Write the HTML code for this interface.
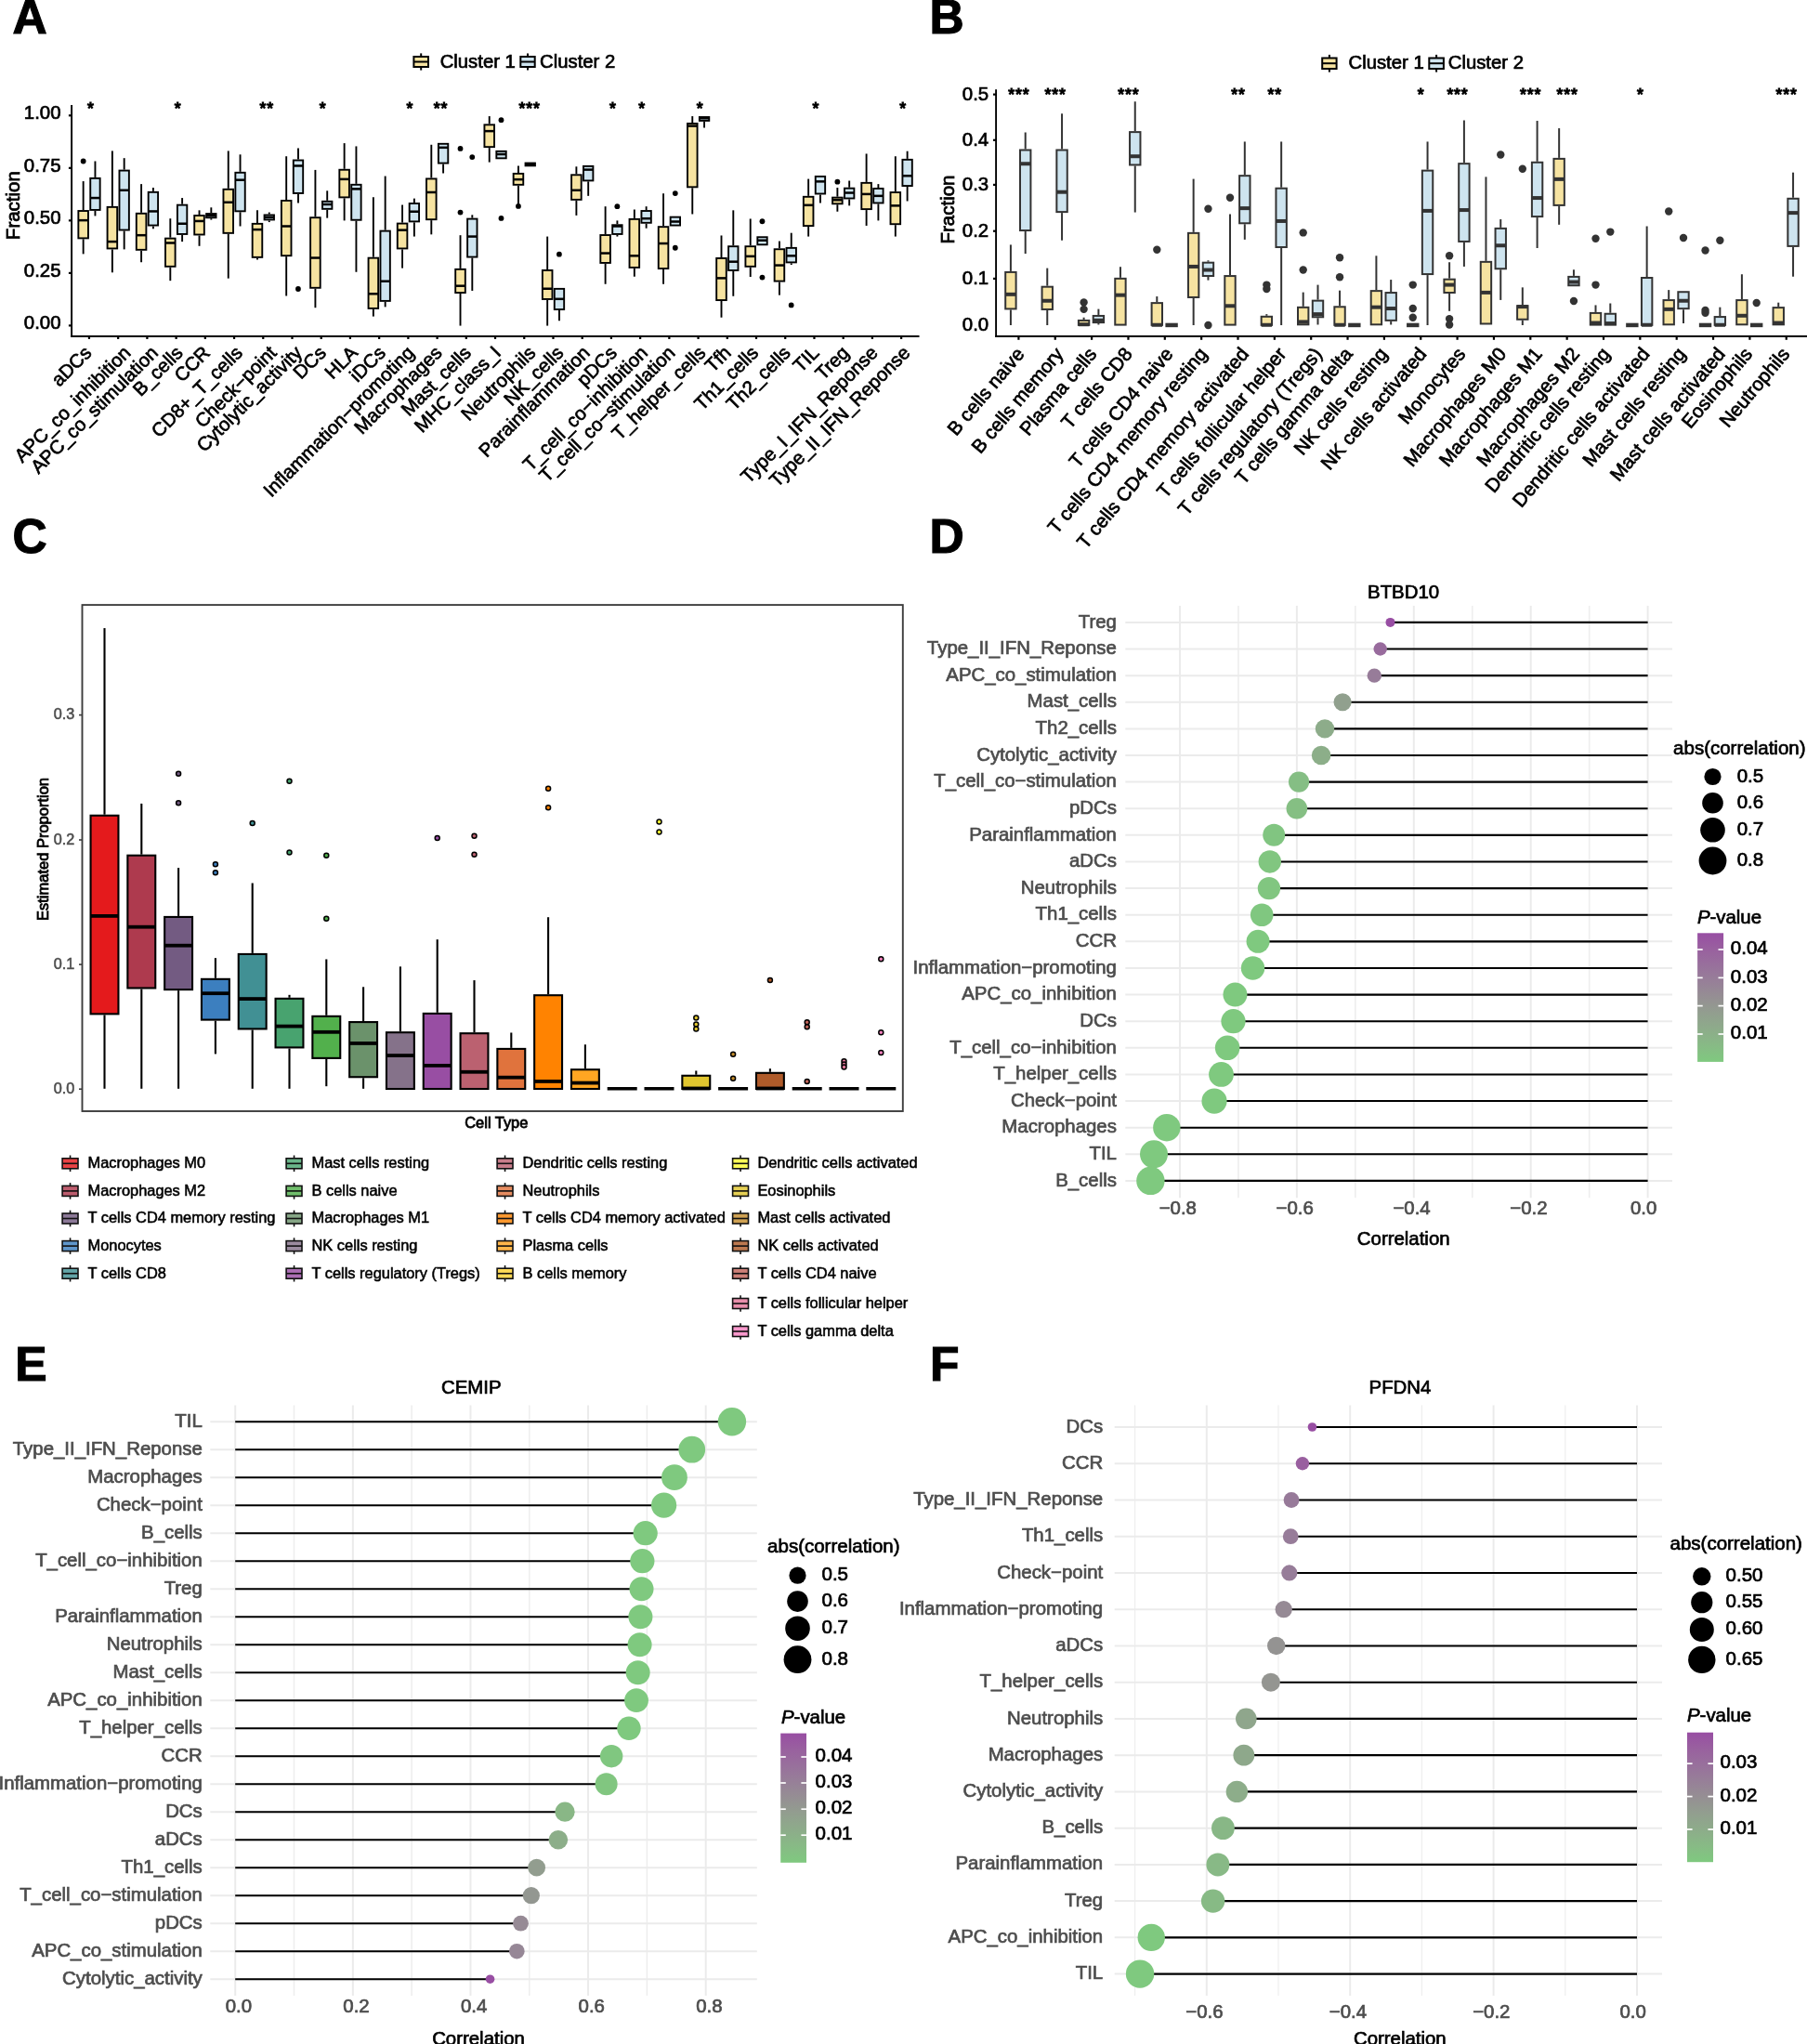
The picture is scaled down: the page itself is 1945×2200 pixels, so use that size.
<!DOCTYPE html>
<html><head><meta charset="utf-8"><title>Figure</title>
<style>
html,body{margin:0;padding:0;background:#fff;}
body{width:1945px;height:2200px;overflow:hidden;}
svg{display:block;will-change:transform;font-family:"Liberation Sans",sans-serif;}
</style></head><body>
<svg width="1945" height="2200" viewBox="0 0 1945 2200">
<rect x="0" y="0" width="1945" height="2200" fill="#fff"/>
<line x1="77.1" y1="113" x2="77.1" y2="362.95" stroke="#000" stroke-width="1.9"/>
<line x1="76.15" y1="362" x2="989.5" y2="362" stroke="#000" stroke-width="1.9"/>
<line x1="73.9" y1="350.4" x2="77.1" y2="350.4" stroke="#000" stroke-width="2.2"/>
<text x="65.5" y="354.4" font-size="20.4" text-anchor="end" stroke="#000" stroke-width="0.69">0.00</text>
<line x1="73.9" y1="293.88" x2="77.1" y2="293.88" stroke="#000" stroke-width="2.2"/>
<text x="65.5" y="297.88" font-size="20.4" text-anchor="end" stroke="#000" stroke-width="0.69">0.25</text>
<line x1="73.9" y1="237.35" x2="77.1" y2="237.35" stroke="#000" stroke-width="2.2"/>
<text x="65.5" y="241.35" font-size="20.4" text-anchor="end" stroke="#000" stroke-width="0.69">0.50</text>
<line x1="73.9" y1="180.82" x2="77.1" y2="180.82" stroke="#000" stroke-width="2.2"/>
<text x="65.5" y="184.82" font-size="20.4" text-anchor="end" stroke="#000" stroke-width="0.69">0.75</text>
<line x1="73.9" y1="124.3" x2="77.1" y2="124.3" stroke="#000" stroke-width="2.2"/>
<text x="65.5" y="128.3" font-size="20.4" text-anchor="end" stroke="#000" stroke-width="0.69">1.00</text>
<text x="20.9" y="221.1" font-size="20.5" text-anchor="middle" stroke="#000" stroke-width="0.8" transform="rotate(-90 20.9 221.1)">Fraction</text>
<line x1="95.95" y1="362" x2="95.95" y2="365" stroke="#000" stroke-width="2.2"/>
<line x1="89.65" y1="195.07" x2="89.65" y2="226.07" stroke="#000" stroke-width="1.9"/>
<line x1="89.65" y1="257.33" x2="89.65" y2="273.38" stroke="#000" stroke-width="1.9"/>
<rect x="84.35" y="227.02" width="10.6" height="29.37" fill="#F6E3A1" stroke="#000" stroke-width="1.9"/>
<line x1="84.35" y1="237.13" x2="94.95" y2="237.13" stroke="#000" stroke-width="2.5"/>
<line x1="102.45" y1="173.49" x2="102.45" y2="190.92" stroke="#000" stroke-width="1.9"/>
<line x1="102.45" y1="226.9" x2="102.45" y2="232.43" stroke="#000" stroke-width="1.9"/>
<rect x="97.25" y="191.87" width="10.4" height="34.07" fill="#CEE4EF" stroke="#000" stroke-width="1.9"/>
<line x1="97.25" y1="213.06" x2="107.65" y2="213.06" stroke="#000" stroke-width="2.5"/>
<circle cx="89.65" cy="173.49" r="2.9" fill="#000"/>
<text x="97.9" y="123" font-size="17.6" text-anchor="middle" stroke="#000" stroke-width="1.2" letter-spacing="0.9">*</text>
<text x="99.7" y="381" font-size="20.4" text-anchor="end" stroke="#000" stroke-width="0.69" transform="rotate(-45 99.7 381)">aDCs</text>
<line x1="127.17" y1="362" x2="127.17" y2="365" stroke="#000" stroke-width="2.2"/>
<line x1="120.87" y1="162.42" x2="120.87" y2="221.91" stroke="#000" stroke-width="1.9"/>
<line x1="120.87" y1="268.4" x2="120.87" y2="293.3" stroke="#000" stroke-width="1.9"/>
<rect x="115.57" y="222.86" width="10.6" height="44.59" fill="#F6E3A1" stroke="#000" stroke-width="1.9"/>
<line x1="115.57" y1="260.1" x2="126.17" y2="260.1" stroke="#000" stroke-width="2.5"/>
<line x1="133.67" y1="170.17" x2="133.67" y2="182.62" stroke="#000" stroke-width="1.9"/>
<line x1="133.67" y1="248.48" x2="133.67" y2="268.4" stroke="#000" stroke-width="1.9"/>
<rect x="128.47" y="183.57" width="10.4" height="63.96" fill="#CEE4EF" stroke="#000" stroke-width="1.9"/>
<line x1="128.47" y1="204.76" x2="138.87" y2="204.76" stroke="#000" stroke-width="2.5"/>
<text x="141.82" y="381" font-size="20.4" text-anchor="end" stroke="#000" stroke-width="0.69" transform="rotate(-45 141.82 381)">APC_co_inhibition</text>
<line x1="158.39" y1="362" x2="158.39" y2="365" stroke="#000" stroke-width="2.2"/>
<line x1="152.09" y1="198.12" x2="152.09" y2="228.83" stroke="#000" stroke-width="1.9"/>
<line x1="152.09" y1="269.78" x2="152.09" y2="282.24" stroke="#000" stroke-width="1.9"/>
<rect x="146.79" y="229.78" width="10.6" height="39.05" fill="#F6E3A1" stroke="#000" stroke-width="1.9"/>
<line x1="146.79" y1="253.18" x2="157.39" y2="253.18" stroke="#000" stroke-width="2.5"/>
<line x1="164.89" y1="201.99" x2="164.89" y2="205.87" stroke="#000" stroke-width="1.9"/>
<line x1="164.89" y1="243.5" x2="164.89" y2="246.26" stroke="#000" stroke-width="1.9"/>
<rect x="159.69" y="206.82" width="10.4" height="35.73" fill="#CEE4EF" stroke="#000" stroke-width="1.9"/>
<line x1="159.69" y1="227.45" x2="170.09" y2="227.45" stroke="#000" stroke-width="2.5"/>
<text x="171.24" y="381" font-size="20.4" text-anchor="end" stroke="#000" stroke-width="0.69" transform="rotate(-45 171.24 381)">APC_co_stimulation</text>
<line x1="189.61" y1="362" x2="189.61" y2="365" stroke="#000" stroke-width="2.2"/>
<line x1="183.31" y1="235.2" x2="183.31" y2="255.67" stroke="#000" stroke-width="1.9"/>
<line x1="183.31" y1="287.77" x2="183.31" y2="302.16" stroke="#000" stroke-width="1.9"/>
<rect x="178.01" y="256.62" width="10.6" height="30.2" fill="#F6E3A1" stroke="#000" stroke-width="1.9"/>
<line x1="178.01" y1="261.48" x2="188.61" y2="261.48" stroke="#000" stroke-width="2.5"/>
<line x1="196.11" y1="213.06" x2="196.11" y2="219.7" stroke="#000" stroke-width="1.9"/>
<line x1="196.11" y1="252.91" x2="196.11" y2="260.1" stroke="#000" stroke-width="1.9"/>
<rect x="190.91" y="220.65" width="10.4" height="31.3" fill="#CEE4EF" stroke="#000" stroke-width="1.9"/>
<line x1="190.91" y1="240.73" x2="201.31" y2="240.73" stroke="#000" stroke-width="2.5"/>
<text x="191.56" y="123" font-size="17.6" text-anchor="middle" stroke="#000" stroke-width="1.2" letter-spacing="0.9">*</text>
<text x="197.86" y="381" font-size="20.4" text-anchor="end" stroke="#000" stroke-width="0.69" transform="rotate(-45 197.86 381)">B_cells</text>
<line x1="220.83" y1="362" x2="220.83" y2="365" stroke="#000" stroke-width="2.2"/>
<line x1="214.53" y1="226.34" x2="214.53" y2="231.05" stroke="#000" stroke-width="1.9"/>
<line x1="214.53" y1="253.46" x2="214.53" y2="264.8" stroke="#000" stroke-width="1.9"/>
<rect x="209.23" y="232" width="10.6" height="20.51" fill="#F6E3A1" stroke="#000" stroke-width="1.9"/>
<line x1="209.23" y1="237.96" x2="219.83" y2="237.96" stroke="#000" stroke-width="2.5"/>
<line x1="227.33" y1="223.3" x2="227.33" y2="229.11" stroke="#000" stroke-width="1.9"/>
<line x1="227.33" y1="235.2" x2="227.33" y2="236.58" stroke="#000" stroke-width="1.9"/>
<rect x="222.13" y="230.06" width="10.4" height="4.19" fill="#CEE4EF" stroke="#000" stroke-width="1.9"/>
<line x1="222.13" y1="231.88" x2="232.53" y2="231.88" stroke="#000" stroke-width="2.5"/>
<text x="227.28" y="381" font-size="20.4" text-anchor="end" stroke="#000" stroke-width="0.69" transform="rotate(-45 227.28 381)">CCR</text>
<line x1="252.05" y1="362" x2="252.05" y2="365" stroke="#000" stroke-width="2.2"/>
<line x1="245.75" y1="162.42" x2="245.75" y2="202.82" stroke="#000" stroke-width="1.9"/>
<line x1="245.75" y1="251.8" x2="245.75" y2="299.67" stroke="#000" stroke-width="1.9"/>
<rect x="240.45" y="203.77" width="10.6" height="47.08" fill="#F6E3A1" stroke="#000" stroke-width="1.9"/>
<line x1="240.45" y1="217.76" x2="251.05" y2="217.76" stroke="#000" stroke-width="2.5"/>
<line x1="258.55" y1="166.3" x2="258.55" y2="184.84" stroke="#000" stroke-width="1.9"/>
<line x1="258.55" y1="228.28" x2="258.55" y2="243.5" stroke="#000" stroke-width="1.9"/>
<rect x="253.35" y="185.79" width="10.4" height="41.54" fill="#CEE4EF" stroke="#000" stroke-width="1.9"/>
<line x1="253.35" y1="193.69" x2="263.75" y2="193.69" stroke="#000" stroke-width="2.5"/>
<text x="262.2" y="381" font-size="20.4" text-anchor="end" stroke="#000" stroke-width="0.69" transform="rotate(-45 262.2 381)">CD8+_T_cells</text>
<line x1="283.27" y1="362" x2="283.27" y2="365" stroke="#000" stroke-width="2.2"/>
<line x1="276.97" y1="226.34" x2="276.97" y2="239.9" stroke="#000" stroke-width="1.9"/>
<line x1="276.97" y1="277.81" x2="276.97" y2="279.47" stroke="#000" stroke-width="1.9"/>
<rect x="271.67" y="240.85" width="10.6" height="36.01" fill="#F6E3A1" stroke="#000" stroke-width="1.9"/>
<line x1="271.67" y1="247.09" x2="282.27" y2="247.09" stroke="#000" stroke-width="2.5"/>
<line x1="289.77" y1="228.56" x2="289.77" y2="230.49" stroke="#000" stroke-width="1.9"/>
<line x1="289.77" y1="237.41" x2="289.77" y2="239.07" stroke="#000" stroke-width="1.9"/>
<rect x="284.57" y="231.44" width="10.4" height="5.02" fill="#CEE4EF" stroke="#000" stroke-width="1.9"/>
<line x1="284.57" y1="233.81" x2="294.97" y2="233.81" stroke="#000" stroke-width="2.5"/>
<text x="287.22" y="123" font-size="17.6" text-anchor="middle" stroke="#000" stroke-width="1.2" letter-spacing="0.9">**</text>
<text x="298.82" y="381" font-size="20.4" text-anchor="end" stroke="#000" stroke-width="0.69" transform="rotate(-45 298.82 381)">Check−point</text>
<line x1="314.49" y1="362" x2="314.49" y2="365" stroke="#000" stroke-width="2.2"/>
<line x1="308.19" y1="168.23" x2="308.19" y2="215" stroke="#000" stroke-width="1.9"/>
<line x1="308.19" y1="276.15" x2="308.19" y2="318.48" stroke="#000" stroke-width="1.9"/>
<rect x="302.89" y="215.95" width="10.6" height="59.25" fill="#F6E3A1" stroke="#000" stroke-width="1.9"/>
<line x1="302.89" y1="243.5" x2="313.49" y2="243.5" stroke="#000" stroke-width="2.5"/>
<line x1="320.99" y1="159.38" x2="320.99" y2="171.56" stroke="#000" stroke-width="1.9"/>
<line x1="320.99" y1="208.91" x2="320.99" y2="218.59" stroke="#000" stroke-width="1.9"/>
<rect x="315.79" y="172.51" width="10.4" height="35.45" fill="#CEE4EF" stroke="#000" stroke-width="1.9"/>
<line x1="315.79" y1="178.47" x2="326.19" y2="178.47" stroke="#000" stroke-width="2.5"/>
<circle cx="320.94" cy="311.01" r="2.9" fill="#000"/>
<text x="326.44" y="381" font-size="20.4" text-anchor="end" stroke="#000" stroke-width="0.69" transform="rotate(-45 326.44 381)">Cytolytic_activity</text>
<line x1="345.71" y1="362" x2="345.71" y2="365" stroke="#000" stroke-width="2.2"/>
<line x1="339.41" y1="182.9" x2="339.41" y2="233.26" stroke="#000" stroke-width="1.9"/>
<line x1="339.41" y1="310.74" x2="339.41" y2="331.21" stroke="#000" stroke-width="1.9"/>
<rect x="334.11" y="234.21" width="10.6" height="75.58" fill="#F6E3A1" stroke="#000" stroke-width="1.9"/>
<line x1="334.11" y1="277.53" x2="344.71" y2="277.53" stroke="#000" stroke-width="2.5"/>
<line x1="352.21" y1="205.31" x2="352.21" y2="215.83" stroke="#000" stroke-width="1.9"/>
<line x1="352.21" y1="225.79" x2="352.21" y2="234.64" stroke="#000" stroke-width="1.9"/>
<rect x="347.01" y="216.78" width="10.4" height="8.06" fill="#CEE4EF" stroke="#000" stroke-width="1.9"/>
<line x1="347.01" y1="219.98" x2="357.41" y2="219.98" stroke="#000" stroke-width="2.5"/>
<text x="347.66" y="123" font-size="17.6" text-anchor="middle" stroke="#000" stroke-width="1.2" letter-spacing="0.9">*</text>
<text x="352.16" y="381" font-size="20.4" text-anchor="end" stroke="#000" stroke-width="0.69" transform="rotate(-45 352.16 381)">DCs</text>
<line x1="376.93" y1="362" x2="376.93" y2="365" stroke="#000" stroke-width="2.2"/>
<line x1="370.63" y1="154.12" x2="370.63" y2="181.79" stroke="#000" stroke-width="1.9"/>
<line x1="370.63" y1="213.34" x2="370.63" y2="237.41" stroke="#000" stroke-width="1.9"/>
<rect x="365.33" y="182.74" width="10.6" height="29.64" fill="#F6E3A1" stroke="#000" stroke-width="1.9"/>
<line x1="365.33" y1="192.86" x2="375.93" y2="192.86" stroke="#000" stroke-width="2.5"/>
<line x1="383.43" y1="157.44" x2="383.43" y2="197.84" stroke="#000" stroke-width="1.9"/>
<line x1="383.43" y1="237.69" x2="383.43" y2="292.75" stroke="#000" stroke-width="1.9"/>
<rect x="378.23" y="198.79" width="10.4" height="37.95" fill="#CEE4EF" stroke="#000" stroke-width="1.9"/>
<line x1="378.23" y1="203.38" x2="388.63" y2="203.38" stroke="#000" stroke-width="2.5"/>
<text x="386.08" y="381" font-size="20.4" text-anchor="end" stroke="#000" stroke-width="0.69" transform="rotate(-45 386.08 381)">HLA</text>
<line x1="408.15" y1="362" x2="408.15" y2="365" stroke="#000" stroke-width="2.2"/>
<line x1="401.85" y1="212.23" x2="401.85" y2="276.7" stroke="#000" stroke-width="1.9"/>
<line x1="401.85" y1="332.87" x2="401.85" y2="340.62" stroke="#000" stroke-width="1.9"/>
<rect x="396.55" y="277.65" width="10.6" height="54.27" fill="#F6E3A1" stroke="#000" stroke-width="1.9"/>
<line x1="396.55" y1="316.27" x2="407.15" y2="316.27" stroke="#000" stroke-width="2.5"/>
<line x1="414.65" y1="189.54" x2="414.65" y2="247.65" stroke="#000" stroke-width="1.9"/>
<line x1="414.65" y1="324.85" x2="414.65" y2="330.38" stroke="#000" stroke-width="1.9"/>
<rect x="409.45" y="248.6" width="10.4" height="75.3" fill="#CEE4EF" stroke="#000" stroke-width="1.9"/>
<line x1="409.45" y1="302.71" x2="419.85" y2="302.71" stroke="#000" stroke-width="2.5"/>
<text x="416.1" y="381" font-size="20.4" text-anchor="end" stroke="#000" stroke-width="0.69" transform="rotate(-45 416.1 381)">iDCs</text>
<line x1="439.37" y1="362" x2="439.37" y2="365" stroke="#000" stroke-width="2.2"/>
<line x1="433.07" y1="220.53" x2="433.07" y2="239.62" stroke="#000" stroke-width="1.9"/>
<line x1="433.07" y1="268.4" x2="433.07" y2="288.6" stroke="#000" stroke-width="1.9"/>
<rect x="427.77" y="240.57" width="10.6" height="26.88" fill="#F6E3A1" stroke="#000" stroke-width="1.9"/>
<line x1="427.77" y1="247.65" x2="438.37" y2="247.65" stroke="#000" stroke-width="2.5"/>
<line x1="445.87" y1="213.61" x2="445.87" y2="218.04" stroke="#000" stroke-width="1.9"/>
<line x1="445.87" y1="239.35" x2="445.87" y2="254.57" stroke="#000" stroke-width="1.9"/>
<rect x="440.67" y="218.99" width="10.4" height="19.41" fill="#CEE4EF" stroke="#000" stroke-width="1.9"/>
<line x1="440.67" y1="227.73" x2="451.07" y2="227.73" stroke="#000" stroke-width="2.5"/>
<text x="441.32" y="123" font-size="17.6" text-anchor="middle" stroke="#000" stroke-width="1.2" letter-spacing="0.9">*</text>
<text x="447.12" y="381" font-size="20.4" text-anchor="end" stroke="#000" stroke-width="0.69" transform="rotate(-45 447.12 381)">Inflammation−promoting</text>
<line x1="470.59" y1="362" x2="470.59" y2="365" stroke="#000" stroke-width="2.2"/>
<line x1="464.29" y1="155.78" x2="464.29" y2="191.48" stroke="#000" stroke-width="1.9"/>
<line x1="464.29" y1="237.13" x2="464.29" y2="252.35" stroke="#000" stroke-width="1.9"/>
<rect x="458.99" y="192.43" width="10.6" height="43.76" fill="#F6E3A1" stroke="#000" stroke-width="1.9"/>
<line x1="458.99" y1="206.97" x2="469.59" y2="206.97" stroke="#000" stroke-width="2.5"/>
<line x1="477.09" y1="176.54" x2="477.09" y2="186.5" stroke="#000" stroke-width="1.9"/>
<rect x="471.89" y="154.8" width="10.4" height="20.79" fill="#CEE4EF" stroke="#000" stroke-width="1.9"/>
<line x1="471.89" y1="158.83" x2="482.29" y2="158.83" stroke="#000" stroke-width="2.5"/>
<text x="474.54" y="123" font-size="17.6" text-anchor="middle" stroke="#000" stroke-width="1.2" letter-spacing="0.9">**</text>
<text x="477.04" y="381" font-size="20.4" text-anchor="end" stroke="#000" stroke-width="0.69" transform="rotate(-45 477.04 381)">Macrophages</text>
<line x1="501.81" y1="362" x2="501.81" y2="365" stroke="#000" stroke-width="2.2"/>
<line x1="495.51" y1="253.18" x2="495.51" y2="288.88" stroke="#000" stroke-width="1.9"/>
<line x1="495.51" y1="315.99" x2="495.51" y2="350.58" stroke="#000" stroke-width="1.9"/>
<rect x="490.21" y="289.83" width="10.6" height="25.22" fill="#F6E3A1" stroke="#000" stroke-width="1.9"/>
<line x1="490.21" y1="307.69" x2="500.81" y2="307.69" stroke="#000" stroke-width="2.5"/>
<line x1="508.31" y1="231.32" x2="508.31" y2="234.64" stroke="#000" stroke-width="1.9"/>
<line x1="508.31" y1="277.53" x2="508.31" y2="312.95" stroke="#000" stroke-width="1.9"/>
<rect x="503.11" y="235.59" width="10.4" height="40.99" fill="#CEE4EF" stroke="#000" stroke-width="1.9"/>
<line x1="503.11" y1="254.57" x2="513.51" y2="254.57" stroke="#000" stroke-width="2.5"/>
<circle cx="495.51" cy="159.93" r="2.9" fill="#000"/>
<circle cx="495.51" cy="228.56" r="2.9" fill="#000"/>
<circle cx="508.26" cy="169.06" r="2.9" fill="#000"/>
<text x="508.26" y="381" font-size="20.4" text-anchor="end" stroke="#000" stroke-width="0.69" transform="rotate(-45 508.26 381)">Mast_cells</text>
<line x1="533.03" y1="362" x2="533.03" y2="365" stroke="#000" stroke-width="2.2"/>
<line x1="526.73" y1="125.07" x2="526.73" y2="133.37" stroke="#000" stroke-width="1.9"/>
<line x1="526.73" y1="159.1" x2="526.73" y2="174.6" stroke="#000" stroke-width="1.9"/>
<rect x="521.43" y="134.32" width="10.6" height="23.83" fill="#F6E3A1" stroke="#000" stroke-width="1.9"/>
<line x1="521.43" y1="141.12" x2="532.03" y2="141.12" stroke="#000" stroke-width="2.5"/>
<rect x="534.33" y="162.82" width="10.4" height="7.51" fill="#CEE4EF" stroke="#000" stroke-width="1.9"/>
<line x1="534.33" y1="166.02" x2="544.73" y2="166.02" stroke="#000" stroke-width="2.5"/>
<circle cx="539.48" cy="129.22" r="2.9" fill="#000"/>
<circle cx="539.48" cy="234.92" r="2.9" fill="#000"/>
<text x="540.18" y="381" font-size="20.4" text-anchor="end" stroke="#000" stroke-width="0.69" transform="rotate(-45 540.18 381)">MHC_class_I</text>
<line x1="564.25" y1="362" x2="564.25" y2="365" stroke="#000" stroke-width="2.2"/>
<line x1="557.95" y1="178.47" x2="557.95" y2="185.94" stroke="#000" stroke-width="1.9"/>
<line x1="557.95" y1="199.78" x2="557.95" y2="221.36" stroke="#000" stroke-width="1.9"/>
<rect x="552.65" y="186.89" width="10.6" height="11.94" fill="#F6E3A1" stroke="#000" stroke-width="1.9"/>
<line x1="552.65" y1="193.14" x2="563.25" y2="193.14" stroke="#000" stroke-width="2.5"/>
<rect x="565.55" y="175.55" width="10.4" height="2.8" fill="#CEE4EF" stroke="#000" stroke-width="1.9"/>
<line x1="565.55" y1="176.95" x2="575.95" y2="176.95" stroke="#000" stroke-width="2.5"/>
<circle cx="557.95" cy="221.91" r="2.9" fill="#000"/>
<text x="570.2" y="123" font-size="17.6" text-anchor="middle" stroke="#000" stroke-width="1.2" letter-spacing="0.9">***</text>
<text x="577.6" y="381" font-size="20.4" text-anchor="end" stroke="#000" stroke-width="0.69" transform="rotate(-45 577.6 381)">Neutrophils</text>
<line x1="595.47" y1="362" x2="595.47" y2="365" stroke="#000" stroke-width="2.2"/>
<line x1="589.17" y1="254.57" x2="589.17" y2="289.98" stroke="#000" stroke-width="1.9"/>
<line x1="589.17" y1="322.91" x2="589.17" y2="350.58" stroke="#000" stroke-width="1.9"/>
<rect x="583.87" y="290.93" width="10.6" height="31.03" fill="#F6E3A1" stroke="#000" stroke-width="1.9"/>
<line x1="583.87" y1="310.74" x2="594.47" y2="310.74" stroke="#000" stroke-width="2.5"/>
<line x1="601.97" y1="333.98" x2="601.97" y2="345.32" stroke="#000" stroke-width="1.9"/>
<rect x="596.77" y="310.86" width="10.4" height="22.17" fill="#CEE4EF" stroke="#000" stroke-width="1.9"/>
<line x1="596.77" y1="321.8" x2="607.17" y2="321.8" stroke="#000" stroke-width="2.5"/>
<circle cx="601.92" cy="273.66" r="2.9" fill="#000"/>
<text x="607.72" y="381" font-size="20.4" text-anchor="end" stroke="#000" stroke-width="0.69" transform="rotate(-45 607.72 381)">NK_cells</text>
<line x1="626.69" y1="362" x2="626.69" y2="365" stroke="#000" stroke-width="2.2"/>
<line x1="620.39" y1="179.3" x2="620.39" y2="187.33" stroke="#000" stroke-width="1.9"/>
<line x1="620.39" y1="215.83" x2="620.39" y2="231.88" stroke="#000" stroke-width="1.9"/>
<rect x="615.09" y="188.28" width="10.6" height="26.6" fill="#F6E3A1" stroke="#000" stroke-width="1.9"/>
<line x1="615.09" y1="204.76" x2="625.69" y2="204.76" stroke="#000" stroke-width="2.5"/>
<line x1="633.19" y1="195.35" x2="633.19" y2="210.85" stroke="#000" stroke-width="1.9"/>
<rect x="627.99" y="178.87" width="10.4" height="15.53" fill="#CEE4EF" stroke="#000" stroke-width="1.9"/>
<line x1="627.99" y1="182.62" x2="638.39" y2="182.62" stroke="#000" stroke-width="2.5"/>
<text x="636.04" y="381" font-size="20.4" text-anchor="end" stroke="#000" stroke-width="0.69" transform="rotate(-45 636.04 381)">Parainflammation</text>
<line x1="657.91" y1="362" x2="657.91" y2="365" stroke="#000" stroke-width="2.2"/>
<line x1="651.61" y1="222.19" x2="651.61" y2="252.08" stroke="#000" stroke-width="1.9"/>
<line x1="651.61" y1="283.9" x2="651.61" y2="305.76" stroke="#000" stroke-width="1.9"/>
<rect x="646.31" y="253.03" width="10.6" height="29.92" fill="#F6E3A1" stroke="#000" stroke-width="1.9"/>
<line x1="646.31" y1="272.55" x2="656.91" y2="272.55" stroke="#000" stroke-width="2.5"/>
<line x1="664.41" y1="237.41" x2="664.41" y2="241.28" stroke="#000" stroke-width="1.9"/>
<line x1="664.41" y1="252.91" x2="664.41" y2="254.57" stroke="#000" stroke-width="1.9"/>
<rect x="659.21" y="242.23" width="10.4" height="9.72" fill="#CEE4EF" stroke="#000" stroke-width="1.9"/>
<line x1="659.21" y1="243.5" x2="669.61" y2="243.5" stroke="#000" stroke-width="2.5"/>
<circle cx="664.36" cy="222.19" r="2.9" fill="#000"/>
<text x="659.86" y="123" font-size="17.6" text-anchor="middle" stroke="#000" stroke-width="1.2" letter-spacing="0.9">*</text>
<text x="665.26" y="381" font-size="20.4" text-anchor="end" stroke="#000" stroke-width="0.69" transform="rotate(-45 665.26 381)">pDCs</text>
<line x1="689.13" y1="362" x2="689.13" y2="365" stroke="#000" stroke-width="2.2"/>
<line x1="682.83" y1="225.51" x2="682.83" y2="234.92" stroke="#000" stroke-width="1.9"/>
<line x1="682.83" y1="288.88" x2="682.83" y2="297.73" stroke="#000" stroke-width="1.9"/>
<rect x="677.53" y="235.87" width="10.6" height="52.06" fill="#F6E3A1" stroke="#000" stroke-width="1.9"/>
<line x1="677.53" y1="275.32" x2="688.13" y2="275.32" stroke="#000" stroke-width="2.5"/>
<line x1="695.63" y1="222.19" x2="695.63" y2="226.07" stroke="#000" stroke-width="1.9"/>
<line x1="695.63" y1="240.73" x2="695.63" y2="245.71" stroke="#000" stroke-width="1.9"/>
<rect x="690.43" y="227.02" width="10.4" height="12.77" fill="#CEE4EF" stroke="#000" stroke-width="1.9"/>
<line x1="690.43" y1="235.2" x2="700.83" y2="235.2" stroke="#000" stroke-width="2.5"/>
<text x="691.08" y="123" font-size="17.6" text-anchor="middle" stroke="#000" stroke-width="1.2" letter-spacing="0.9">*</text>
<text x="698.18" y="381" font-size="20.4" text-anchor="end" stroke="#000" stroke-width="0.69" transform="rotate(-45 698.18 381)">T_cell_co−inhibition</text>
<line x1="720.35" y1="362" x2="720.35" y2="365" stroke="#000" stroke-width="2.2"/>
<line x1="714.05" y1="208.36" x2="714.05" y2="243.22" stroke="#000" stroke-width="1.9"/>
<line x1="714.05" y1="289.98" x2="714.05" y2="305.76" stroke="#000" stroke-width="1.9"/>
<rect x="708.75" y="244.17" width="10.6" height="44.86" fill="#F6E3A1" stroke="#000" stroke-width="1.9"/>
<line x1="708.75" y1="262.04" x2="719.35" y2="262.04" stroke="#000" stroke-width="2.5"/>
<rect x="721.65" y="233.66" width="10.4" height="8.89" fill="#CEE4EF" stroke="#000" stroke-width="1.9"/>
<line x1="721.65" y1="238.52" x2="732.05" y2="238.52" stroke="#000" stroke-width="2.5"/>
<circle cx="726.8" cy="208.08" r="2.9" fill="#000"/>
<circle cx="726.8" cy="266.74" r="2.9" fill="#000"/>
<text x="727.9" y="381" font-size="20.4" text-anchor="end" stroke="#000" stroke-width="0.69" transform="rotate(-45 727.9 381)">T_cell_co−stimulation</text>
<line x1="751.57" y1="362" x2="751.57" y2="365" stroke="#000" stroke-width="2.2"/>
<line x1="745.27" y1="125.07" x2="745.27" y2="131.99" stroke="#000" stroke-width="1.9"/>
<line x1="745.27" y1="202.27" x2="745.27" y2="230.49" stroke="#000" stroke-width="1.9"/>
<rect x="739.97" y="132.94" width="10.6" height="68.38" fill="#F6E3A1" stroke="#000" stroke-width="1.9"/>
<line x1="739.97" y1="135.58" x2="750.57" y2="135.58" stroke="#000" stroke-width="2.5"/>
<line x1="758.07" y1="130.88" x2="758.07" y2="137.52" stroke="#000" stroke-width="1.9"/>
<rect x="752.87" y="126.02" width="10.4" height="3.91" fill="#CEE4EF" stroke="#000" stroke-width="1.9"/>
<line x1="752.87" y1="127.28" x2="763.27" y2="127.28" stroke="#000" stroke-width="2.5"/>
<text x="753.52" y="123" font-size="17.6" text-anchor="middle" stroke="#000" stroke-width="1.2" letter-spacing="0.9">*</text>
<text x="760.72" y="381" font-size="20.4" text-anchor="end" stroke="#000" stroke-width="0.69" transform="rotate(-45 760.72 381)">T_helper_cells</text>
<line x1="782.79" y1="362" x2="782.79" y2="365" stroke="#000" stroke-width="2.2"/>
<line x1="776.49" y1="253.46" x2="776.49" y2="276.98" stroke="#000" stroke-width="1.9"/>
<line x1="776.49" y1="324.02" x2="776.49" y2="341.73" stroke="#000" stroke-width="1.9"/>
<rect x="771.19" y="277.93" width="10.6" height="45.14" fill="#F6E3A1" stroke="#000" stroke-width="1.9"/>
<line x1="771.19" y1="299.39" x2="781.79" y2="299.39" stroke="#000" stroke-width="2.5"/>
<line x1="789.29" y1="226.34" x2="789.29" y2="264.25" stroke="#000" stroke-width="1.9"/>
<line x1="789.29" y1="291.92" x2="789.29" y2="318.76" stroke="#000" stroke-width="1.9"/>
<rect x="784.09" y="265.2" width="10.4" height="25.77" fill="#CEE4EF" stroke="#000" stroke-width="1.9"/>
<line x1="784.09" y1="281.68" x2="794.49" y2="281.68" stroke="#000" stroke-width="2.5"/>
<text x="788.14" y="381" font-size="20.4" text-anchor="end" stroke="#000" stroke-width="0.69" transform="rotate(-45 788.14 381)">Tfh</text>
<line x1="814.01" y1="362" x2="814.01" y2="365" stroke="#000" stroke-width="2.2"/>
<line x1="807.71" y1="235.47" x2="807.71" y2="264.25" stroke="#000" stroke-width="1.9"/>
<line x1="807.71" y1="287.77" x2="807.71" y2="298.01" stroke="#000" stroke-width="1.9"/>
<rect x="802.41" y="265.2" width="10.6" height="21.62" fill="#F6E3A1" stroke="#000" stroke-width="1.9"/>
<line x1="802.41" y1="275.87" x2="813.01" y2="275.87" stroke="#000" stroke-width="2.5"/>
<rect x="815.31" y="255.24" width="10.4" height="8.06" fill="#CEE4EF" stroke="#000" stroke-width="1.9"/>
<line x1="815.31" y1="258.72" x2="825.71" y2="258.72" stroke="#000" stroke-width="2.5"/>
<circle cx="820.46" cy="238.24" r="2.9" fill="#000"/>
<circle cx="820.46" cy="298.56" r="2.9" fill="#000"/>
<text x="817.36" y="381" font-size="20.4" text-anchor="end" stroke="#000" stroke-width="0.69" transform="rotate(-45 817.36 381)">Th1_cells</text>
<line x1="845.23" y1="362" x2="845.23" y2="365" stroke="#000" stroke-width="2.2"/>
<line x1="838.93" y1="259.55" x2="838.93" y2="267.29" stroke="#000" stroke-width="1.9"/>
<line x1="838.93" y1="303.54" x2="838.93" y2="317.65" stroke="#000" stroke-width="1.9"/>
<rect x="833.63" y="268.24" width="10.6" height="34.35" fill="#F6E3A1" stroke="#000" stroke-width="1.9"/>
<line x1="833.63" y1="285.56" x2="844.23" y2="285.56" stroke="#000" stroke-width="2.5"/>
<line x1="851.73" y1="250.69" x2="851.73" y2="265.91" stroke="#000" stroke-width="1.9"/>
<line x1="851.73" y1="283.34" x2="851.73" y2="285" stroke="#000" stroke-width="1.9"/>
<rect x="846.53" y="266.86" width="10.4" height="15.53" fill="#CEE4EF" stroke="#000" stroke-width="1.9"/>
<line x1="846.53" y1="275.32" x2="856.93" y2="275.32" stroke="#000" stroke-width="2.5"/>
<circle cx="851.68" cy="328.44" r="2.9" fill="#000"/>
<text x="852.08" y="381" font-size="20.4" text-anchor="end" stroke="#000" stroke-width="0.69" transform="rotate(-45 852.08 381)">Th2_cells</text>
<line x1="876.45" y1="362" x2="876.45" y2="365" stroke="#000" stroke-width="2.2"/>
<line x1="870.15" y1="192.58" x2="870.15" y2="210.85" stroke="#000" stroke-width="1.9"/>
<line x1="870.15" y1="244.05" x2="870.15" y2="254.57" stroke="#000" stroke-width="1.9"/>
<rect x="864.85" y="211.8" width="10.6" height="31.3" fill="#F6E3A1" stroke="#000" stroke-width="1.9"/>
<line x1="864.85" y1="220.81" x2="875.45" y2="220.81" stroke="#000" stroke-width="2.5"/>
<line x1="882.95" y1="209.46" x2="882.95" y2="218.59" stroke="#000" stroke-width="1.9"/>
<rect x="877.75" y="189.94" width="10.4" height="18.58" fill="#CEE4EF" stroke="#000" stroke-width="1.9"/>
<line x1="877.75" y1="195.35" x2="888.15" y2="195.35" stroke="#000" stroke-width="2.5"/>
<text x="878.4" y="123" font-size="17.6" text-anchor="middle" stroke="#000" stroke-width="1.2" letter-spacing="0.9">*</text>
<text x="882.9" y="381" font-size="20.4" text-anchor="end" stroke="#000" stroke-width="0.69" transform="rotate(-45 882.9 381)">TIL</text>
<line x1="907.67" y1="362" x2="907.67" y2="365" stroke="#000" stroke-width="2.2"/>
<line x1="901.37" y1="201.99" x2="901.37" y2="211.68" stroke="#000" stroke-width="1.9"/>
<line x1="901.37" y1="220.25" x2="901.37" y2="227.73" stroke="#000" stroke-width="1.9"/>
<rect x="896.07" y="212.63" width="10.6" height="6.68" fill="#F6E3A1" stroke="#000" stroke-width="1.9"/>
<line x1="896.07" y1="215.27" x2="906.67" y2="215.27" stroke="#000" stroke-width="2.5"/>
<line x1="914.17" y1="194.52" x2="914.17" y2="201.72" stroke="#000" stroke-width="1.9"/>
<line x1="914.17" y1="214.44" x2="914.17" y2="221.36" stroke="#000" stroke-width="1.9"/>
<rect x="908.97" y="202.67" width="10.4" height="10.83" fill="#CEE4EF" stroke="#000" stroke-width="1.9"/>
<line x1="908.97" y1="207.53" x2="919.37" y2="207.53" stroke="#000" stroke-width="2.5"/>
<circle cx="901.37" cy="195.63" r="2.9" fill="#000"/>
<text x="915.02" y="381" font-size="20.4" text-anchor="end" stroke="#000" stroke-width="0.69" transform="rotate(-45 915.02 381)">Treg</text>
<line x1="938.89" y1="362" x2="938.89" y2="365" stroke="#000" stroke-width="2.2"/>
<line x1="932.59" y1="165.47" x2="932.59" y2="195.9" stroke="#000" stroke-width="1.9"/>
<line x1="932.59" y1="226.07" x2="932.59" y2="242.94" stroke="#000" stroke-width="1.9"/>
<rect x="927.29" y="196.85" width="10.6" height="28.26" fill="#F6E3A1" stroke="#000" stroke-width="1.9"/>
<line x1="927.29" y1="208.91" x2="937.89" y2="208.91" stroke="#000" stroke-width="2.5"/>
<line x1="945.39" y1="198.12" x2="945.39" y2="201.99" stroke="#000" stroke-width="1.9"/>
<line x1="945.39" y1="219.42" x2="945.39" y2="237.41" stroke="#000" stroke-width="1.9"/>
<rect x="940.19" y="202.94" width="10.4" height="15.53" fill="#CEE4EF" stroke="#000" stroke-width="1.9"/>
<line x1="940.19" y1="210.85" x2="950.59" y2="210.85" stroke="#000" stroke-width="2.5"/>
<text x="946.04" y="381" font-size="20.4" text-anchor="end" stroke="#000" stroke-width="0.69" transform="rotate(-45 946.04 381)">Type_I_IFN_Reponse</text>
<line x1="970.11" y1="362" x2="970.11" y2="365" stroke="#000" stroke-width="2.2"/>
<line x1="963.81" y1="168.23" x2="963.81" y2="206.09" stroke="#000" stroke-width="1.9"/>
<line x1="963.81" y1="242.17" x2="963.81" y2="254.57" stroke="#000" stroke-width="1.9"/>
<rect x="958.51" y="207.04" width="10.6" height="34.18" fill="#F6E3A1" stroke="#000" stroke-width="1.9"/>
<line x1="958.51" y1="221.36" x2="969.11" y2="221.36" stroke="#000" stroke-width="2.5"/>
<line x1="976.61" y1="162.7" x2="976.61" y2="170.89" stroke="#000" stroke-width="1.9"/>
<line x1="976.61" y1="201" x2="976.61" y2="216.49" stroke="#000" stroke-width="1.9"/>
<rect x="971.41" y="171.84" width="10.4" height="28.21" fill="#CEE4EF" stroke="#000" stroke-width="1.9"/>
<line x1="971.41" y1="189.26" x2="981.81" y2="189.26" stroke="#000" stroke-width="2.5"/>
<text x="972.06" y="123" font-size="17.6" text-anchor="middle" stroke="#000" stroke-width="1.2" letter-spacing="0.9">*</text>
<text x="980.76" y="381" font-size="20.4" text-anchor="end" stroke="#000" stroke-width="0.69" transform="rotate(-45 980.76 381)">Type_II_IFN_Reponse</text>
<line x1="453.2" y1="57.4" x2="453.2" y2="75.6" stroke="#000" stroke-width="2"/>
<rect x="445.4" y="61" width="15.6" height="11" fill="#F6E3A1" stroke="#000" stroke-width="2"/>
<line x1="445.4" y1="66.5" x2="461" y2="66.5" stroke="#000" stroke-width="2"/>
<text x="473.7" y="72.9" font-size="20.3" stroke="#000" stroke-width="0.69">Cluster 1</text>
<line x1="568" y1="57.4" x2="568" y2="75.6" stroke="#000" stroke-width="2"/>
<rect x="560.3" y="61" width="15.4" height="11" fill="#CEE4EF" stroke="#000" stroke-width="2"/>
<line x1="560.3" y1="66.5" x2="575.7" y2="66.5" stroke="#000" stroke-width="2"/>
<text x="581.1" y="72.9" font-size="20.3" stroke="#000" stroke-width="0.69">Cluster 2</text>
<line x1="1072.1" y1="96.3" x2="1072.1" y2="362.95" stroke="#000" stroke-width="1.9"/>
<line x1="1071.15" y1="362" x2="1945" y2="362" stroke="#000" stroke-width="1.9"/>
<text x="1064.2" y="355.9" font-size="20.4" text-anchor="end" stroke="#000" stroke-width="0.69">0.0</text>
<line x1="1069" y1="299.9" x2="1072.1" y2="299.9" stroke="#000" stroke-width="2.2"/>
<text x="1064.2" y="306" font-size="20.4" text-anchor="end" stroke="#000" stroke-width="0.69">0.1</text>
<line x1="1069" y1="248.7" x2="1072.1" y2="248.7" stroke="#000" stroke-width="2.2"/>
<text x="1064.2" y="254.8" font-size="20.4" text-anchor="end" stroke="#000" stroke-width="0.69">0.2</text>
<line x1="1069" y1="198.9" x2="1072.1" y2="198.9" stroke="#000" stroke-width="2.2"/>
<text x="1064.2" y="205" font-size="20.4" text-anchor="end" stroke="#000" stroke-width="0.69">0.3</text>
<line x1="1069" y1="150.8" x2="1072.1" y2="150.8" stroke="#000" stroke-width="2.2"/>
<text x="1064.2" y="156.9" font-size="20.4" text-anchor="end" stroke="#000" stroke-width="0.69">0.4</text>
<line x1="1069" y1="101.65" x2="1072.1" y2="101.65" stroke="#000" stroke-width="2.2"/>
<text x="1064.2" y="107.75" font-size="20.4" text-anchor="end" stroke="#000" stroke-width="0.69">0.5</text>
<text x="1027.3" y="225.5" font-size="20.5" text-anchor="middle" stroke="#000" stroke-width="0.8" transform="rotate(-90 1027.3 225.5)">Fraction</text>
<line x1="1096.4" y1="362" x2="1096.4" y2="365.8" stroke="#000" stroke-width="2.2"/>
<line x1="1087.9" y1="263.42" x2="1087.9" y2="291.92" stroke="#333" stroke-width="2"/>
<line x1="1087.9" y1="333.43" x2="1087.9" y2="350.03" stroke="#333" stroke-width="2"/>
<rect x="1082.2" y="292.92" width="11.4" height="39.51" fill="#F6E3A1" stroke="#333" stroke-width="2"/>
<line x1="1082.2" y1="316.82" x2="1093.6" y2="316.82" stroke="#333" stroke-width="4"/>
<line x1="1103.7" y1="142.5" x2="1103.7" y2="160.49" stroke="#333" stroke-width="2"/>
<line x1="1103.7" y1="249.03" x2="1103.7" y2="273.1" stroke="#333" stroke-width="2"/>
<rect x="1098" y="161.49" width="11.4" height="86.54" fill="#CEE4EF" stroke="#333" stroke-width="2"/>
<line x1="1098" y1="176.26" x2="1109.4" y2="176.26" stroke="#333" stroke-width="4"/>
<text x="1096.8" y="107.6" font-size="17.6" text-anchor="middle" stroke="#000" stroke-width="1.2" letter-spacing="0.9">***</text>
<text x="1103.6" y="381.5" font-size="20.6" text-anchor="end" stroke="#000" stroke-width="0.7" transform="rotate(-50 1103.6 381.5)">B cells naive</text>
<line x1="1135.75" y1="362" x2="1135.75" y2="365.8" stroke="#000" stroke-width="2.2"/>
<line x1="1127.25" y1="288.6" x2="1127.25" y2="307.69" stroke="#333" stroke-width="2"/>
<line x1="1127.25" y1="333.98" x2="1127.25" y2="350.03" stroke="#333" stroke-width="2"/>
<rect x="1121.55" y="308.69" width="11.4" height="24.29" fill="#F6E3A1" stroke="#333" stroke-width="2"/>
<line x1="1121.55" y1="323.74" x2="1132.95" y2="323.74" stroke="#333" stroke-width="4"/>
<line x1="1143.05" y1="122.3" x2="1143.05" y2="160.49" stroke="#333" stroke-width="2"/>
<line x1="1143.05" y1="229.11" x2="1143.05" y2="258.72" stroke="#333" stroke-width="2"/>
<rect x="1137.35" y="161.49" width="11.4" height="66.62" fill="#CEE4EF" stroke="#333" stroke-width="2"/>
<line x1="1137.35" y1="206.7" x2="1148.75" y2="206.7" stroke="#333" stroke-width="4"/>
<text x="1136.15" y="107.6" font-size="17.6" text-anchor="middle" stroke="#000" stroke-width="1.2" letter-spacing="0.9">***</text>
<text x="1145.65" y="381.5" font-size="20.6" text-anchor="end" stroke="#000" stroke-width="0.7" transform="rotate(-50 1145.65 381.5)">B cells memory</text>
<line x1="1175.1" y1="362" x2="1175.1" y2="365.8" stroke="#000" stroke-width="2.2"/>
<line x1="1166.6" y1="341.73" x2="1166.6" y2="343.94" stroke="#333" stroke-width="2"/>
<rect x="1160.9" y="344.94" width="11.4" height="4.92" fill="#F6E3A1" stroke="#333" stroke-width="2"/>
<line x1="1160.9" y1="349.2" x2="1172.3" y2="349.2" stroke="#333" stroke-width="4"/>
<line x1="1182.4" y1="332.6" x2="1182.4" y2="338.96" stroke="#333" stroke-width="2"/>
<line x1="1182.4" y1="348.09" x2="1182.4" y2="349.47" stroke="#333" stroke-width="2"/>
<rect x="1176.7" y="339.96" width="11.4" height="7.13" fill="#CEE4EF" stroke="#333" stroke-width="2"/>
<line x1="1176.7" y1="344.77" x2="1188.1" y2="344.77" stroke="#333" stroke-width="4"/>
<circle cx="1166.6" cy="325.4" r="4.2" fill="#333"/>
<circle cx="1166.6" cy="332.87" r="4.2" fill="#333"/>
<text x="1181.4" y="381.5" font-size="20.6" text-anchor="end" stroke="#000" stroke-width="0.7" transform="rotate(-50 1181.4 381.5)">Plasma cells</text>
<line x1="1214.45" y1="362" x2="1214.45" y2="365.8" stroke="#000" stroke-width="2.2"/>
<line x1="1205.95" y1="287.22" x2="1205.95" y2="298.84" stroke="#333" stroke-width="2"/>
<rect x="1200.25" y="299.84" width="11.4" height="49.74" fill="#F6E3A1" stroke="#333" stroke-width="2"/>
<line x1="1200.25" y1="317.65" x2="1211.65" y2="317.65" stroke="#333" stroke-width="4"/>
<line x1="1221.75" y1="109.3" x2="1221.75" y2="141.12" stroke="#333" stroke-width="2"/>
<line x1="1221.75" y1="178.47" x2="1221.75" y2="228.56" stroke="#333" stroke-width="2"/>
<rect x="1216.05" y="142.12" width="11.4" height="35.35" fill="#CEE4EF" stroke="#333" stroke-width="2"/>
<line x1="1216.05" y1="168.23" x2="1227.45" y2="168.23" stroke="#333" stroke-width="4"/>
<text x="1214.85" y="107.6" font-size="17.6" text-anchor="middle" stroke="#000" stroke-width="1.2" letter-spacing="0.9">***</text>
<text x="1219.85" y="381.5" font-size="20.6" text-anchor="end" stroke="#000" stroke-width="0.7" transform="rotate(-50 1219.85 381.5)">T cells CD8</text>
<line x1="1253.8" y1="362" x2="1253.8" y2="365.8" stroke="#000" stroke-width="2.2"/>
<line x1="1245.3" y1="319.04" x2="1245.3" y2="325.12" stroke="#333" stroke-width="2"/>
<rect x="1239.6" y="326.12" width="11.4" height="23.73" fill="#F6E3A1" stroke="#333" stroke-width="2"/>
<line x1="1239.6" y1="349.75" x2="1251" y2="349.75" stroke="#333" stroke-width="4"/>
<line x1="1254.4" y1="349.93" x2="1267.8" y2="349.93" stroke="#333" stroke-width="4.5"/>
<circle cx="1245.3" cy="268.68" r="4.2" fill="#333"/>
<text x="1263.7" y="381.5" font-size="20.6" text-anchor="end" stroke="#000" stroke-width="0.7" transform="rotate(-50 1263.7 381.5)">T cells CD4 naive</text>
<line x1="1293.15" y1="362" x2="1293.15" y2="365.8" stroke="#000" stroke-width="2.2"/>
<line x1="1284.65" y1="192.58" x2="1284.65" y2="249.86" stroke="#333" stroke-width="2"/>
<line x1="1284.65" y1="320.97" x2="1284.65" y2="350.03" stroke="#333" stroke-width="2"/>
<rect x="1278.95" y="250.86" width="11.4" height="69.11" fill="#F6E3A1" stroke="#333" stroke-width="2"/>
<line x1="1278.95" y1="286.94" x2="1290.35" y2="286.94" stroke="#333" stroke-width="4"/>
<line x1="1300.45" y1="280.3" x2="1300.45" y2="281.68" stroke="#333" stroke-width="2"/>
<line x1="1300.45" y1="298.01" x2="1300.45" y2="301.6" stroke="#333" stroke-width="2"/>
<rect x="1294.75" y="282.68" width="11.4" height="14.33" fill="#CEE4EF" stroke="#333" stroke-width="2"/>
<line x1="1294.75" y1="290.54" x2="1306.15" y2="290.54" stroke="#333" stroke-width="4"/>
<circle cx="1300.45" cy="224.68" r="4.2" fill="#333"/>
<circle cx="1300.45" cy="350.03" r="4.2" fill="#333"/>
<text x="1300.35" y="381.5" font-size="20.6" text-anchor="end" stroke="#000" stroke-width="0.7" transform="rotate(-50 1300.35 381.5)">T cells CD4 memory resting</text>
<line x1="1332.5" y1="362" x2="1332.5" y2="365.8" stroke="#000" stroke-width="2.2"/>
<line x1="1324" y1="230.49" x2="1324" y2="296.07" stroke="#333" stroke-width="2"/>
<rect x="1318.3" y="297.07" width="11.4" height="52.51" fill="#F6E3A1" stroke="#333" stroke-width="2"/>
<line x1="1318.3" y1="329.28" x2="1329.7" y2="329.28" stroke="#333" stroke-width="4"/>
<line x1="1339.8" y1="152.46" x2="1339.8" y2="188.16" stroke="#333" stroke-width="2"/>
<line x1="1339.8" y1="241.28" x2="1339.8" y2="257.89" stroke="#333" stroke-width="2"/>
<rect x="1334.1" y="189.16" width="11.4" height="51.13" fill="#CEE4EF" stroke="#333" stroke-width="2"/>
<line x1="1334.1" y1="224.13" x2="1345.5" y2="224.13" stroke="#333" stroke-width="4"/>
<circle cx="1324" cy="212.78" r="4.2" fill="#333"/>
<text x="1332.9" y="107.6" font-size="17.6" text-anchor="middle" stroke="#000" stroke-width="1.2" letter-spacing="0.9">**</text>
<text x="1345.1" y="381.5" font-size="20.6" text-anchor="end" stroke="#000" stroke-width="0.7" transform="rotate(-50 1345.1 381.5)">T cells CD4 memory activated</text>
<line x1="1371.85" y1="362" x2="1371.85" y2="365.8" stroke="#000" stroke-width="2.2"/>
<line x1="1363.35" y1="338.13" x2="1363.35" y2="339.79" stroke="#333" stroke-width="2"/>
<rect x="1357.65" y="340.79" width="11.4" height="9.07" fill="#F6E3A1" stroke="#333" stroke-width="2"/>
<line x1="1357.65" y1="349.75" x2="1369.05" y2="349.75" stroke="#333" stroke-width="4"/>
<line x1="1379.15" y1="152.46" x2="1379.15" y2="201.72" stroke="#333" stroke-width="2"/>
<line x1="1379.15" y1="267.02" x2="1379.15" y2="350.03" stroke="#333" stroke-width="2"/>
<rect x="1373.45" y="202.72" width="11.4" height="63.3" fill="#CEE4EF" stroke="#333" stroke-width="2"/>
<line x1="1373.45" y1="237.96" x2="1384.85" y2="237.96" stroke="#333" stroke-width="4"/>
<circle cx="1363.35" cy="306.59" r="4.2" fill="#333"/>
<circle cx="1363.35" cy="311.01" r="4.2" fill="#333"/>
<text x="1372.25" y="107.6" font-size="17.6" text-anchor="middle" stroke="#000" stroke-width="1.2" letter-spacing="0.9">**</text>
<text x="1385.35" y="381.5" font-size="20.6" text-anchor="end" stroke="#000" stroke-width="0.7" transform="rotate(-50 1385.35 381.5)">T cells follicular helper</text>
<line x1="1411.2" y1="362" x2="1411.2" y2="365.8" stroke="#000" stroke-width="2.2"/>
<line x1="1402.7" y1="314.61" x2="1402.7" y2="329.83" stroke="#333" stroke-width="2"/>
<rect x="1397" y="330.83" width="11.4" height="18.48" fill="#F6E3A1" stroke="#333" stroke-width="2"/>
<line x1="1397" y1="346.43" x2="1408.4" y2="346.43" stroke="#333" stroke-width="4"/>
<line x1="1418.5" y1="306.59" x2="1418.5" y2="322.63" stroke="#333" stroke-width="2"/>
<line x1="1418.5" y1="342.28" x2="1418.5" y2="349.47" stroke="#333" stroke-width="2"/>
<rect x="1412.8" y="323.63" width="11.4" height="17.65" fill="#CEE4EF" stroke="#333" stroke-width="2"/>
<line x1="1412.8" y1="338.13" x2="1424.2" y2="338.13" stroke="#333" stroke-width="4"/>
<circle cx="1402.7" cy="250.42" r="4.2" fill="#333"/>
<circle cx="1402.7" cy="290.54" r="4.2" fill="#333"/>
<text x="1423.8" y="381.5" font-size="20.6" text-anchor="end" stroke="#000" stroke-width="0.7" transform="rotate(-50 1423.8 381.5)">T cells regulatory (Tregs)</text>
<line x1="1450.55" y1="362" x2="1450.55" y2="365.8" stroke="#000" stroke-width="2.2"/>
<line x1="1442.05" y1="312.67" x2="1442.05" y2="329.28" stroke="#333" stroke-width="2"/>
<rect x="1436.35" y="330.28" width="11.4" height="19.58" fill="#F6E3A1" stroke="#333" stroke-width="2"/>
<line x1="1436.35" y1="349.75" x2="1447.75" y2="349.75" stroke="#333" stroke-width="4"/>
<line x1="1451.15" y1="349.93" x2="1464.55" y2="349.93" stroke="#333" stroke-width="4.5"/>
<circle cx="1442.05" cy="277.26" r="4.2" fill="#333"/>
<circle cx="1442.05" cy="298.28" r="4.2" fill="#333"/>
<text x="1456.85" y="381.5" font-size="20.6" text-anchor="end" stroke="#000" stroke-width="0.7" transform="rotate(-50 1456.85 381.5)">T cells gamma delta</text>
<line x1="1489.9" y1="362" x2="1489.9" y2="365.8" stroke="#000" stroke-width="2.2"/>
<line x1="1481.4" y1="275.32" x2="1481.4" y2="312.12" stroke="#333" stroke-width="2"/>
<rect x="1475.7" y="313.12" width="11.4" height="36.18" fill="#F6E3A1" stroke="#333" stroke-width="2"/>
<line x1="1475.7" y1="330.66" x2="1487.1" y2="330.66" stroke="#333" stroke-width="4"/>
<line x1="1497.2" y1="301.05" x2="1497.2" y2="314.06" stroke="#333" stroke-width="2"/>
<line x1="1497.2" y1="345.88" x2="1497.2" y2="349.47" stroke="#333" stroke-width="2"/>
<rect x="1491.5" y="315.06" width="11.4" height="29.82" fill="#CEE4EF" stroke="#333" stroke-width="2"/>
<line x1="1491.5" y1="332.04" x2="1502.9" y2="332.04" stroke="#333" stroke-width="4"/>
<text x="1494.3" y="381.5" font-size="20.6" text-anchor="end" stroke="#000" stroke-width="0.7" transform="rotate(-50 1494.3 381.5)">NK cells resting</text>
<line x1="1529.25" y1="362" x2="1529.25" y2="365.8" stroke="#000" stroke-width="2.2"/>
<line x1="1514.05" y1="349.93" x2="1527.45" y2="349.93" stroke="#333" stroke-width="4.5"/>
<line x1="1536.55" y1="152.46" x2="1536.55" y2="182.62" stroke="#333" stroke-width="2"/>
<line x1="1536.55" y1="296.07" x2="1536.55" y2="350.03" stroke="#333" stroke-width="2"/>
<rect x="1530.85" y="183.62" width="11.4" height="111.45" fill="#CEE4EF" stroke="#333" stroke-width="2"/>
<line x1="1530.85" y1="226.9" x2="1542.25" y2="226.9" stroke="#333" stroke-width="4"/>
<circle cx="1520.75" cy="306.59" r="4.2" fill="#333"/>
<circle cx="1520.75" cy="332.04" r="4.2" fill="#333"/>
<circle cx="1520.75" cy="341.73" r="4.2" fill="#333"/>
<text x="1529.65" y="107.6" font-size="17.6" text-anchor="middle" stroke="#000" stroke-width="1.2" letter-spacing="0.9">*</text>
<text x="1536.45" y="381.5" font-size="20.6" text-anchor="end" stroke="#000" stroke-width="0.7" transform="rotate(-50 1536.45 381.5)">NK cells activated</text>
<line x1="1568.6" y1="362" x2="1568.6" y2="365.8" stroke="#000" stroke-width="2.2"/>
<line x1="1560.1" y1="282.24" x2="1560.1" y2="299.67" stroke="#333" stroke-width="2"/>
<line x1="1560.1" y1="315.99" x2="1560.1" y2="334.81" stroke="#333" stroke-width="2"/>
<rect x="1554.4" y="300.67" width="11.4" height="14.33" fill="#F6E3A1" stroke="#333" stroke-width="2"/>
<line x1="1554.4" y1="306.59" x2="1565.8" y2="306.59" stroke="#333" stroke-width="4"/>
<line x1="1575.9" y1="129.5" x2="1575.9" y2="175.15" stroke="#333" stroke-width="2"/>
<line x1="1575.9" y1="260.93" x2="1575.9" y2="286.94" stroke="#333" stroke-width="2"/>
<rect x="1570.2" y="176.15" width="11.4" height="83.78" fill="#CEE4EF" stroke="#333" stroke-width="2"/>
<line x1="1570.2" y1="226.07" x2="1581.6" y2="226.07" stroke="#333" stroke-width="4"/>
<circle cx="1560.1" cy="275.32" r="4.2" fill="#333"/>
<circle cx="1560.1" cy="343.11" r="4.2" fill="#333"/>
<circle cx="1560.1" cy="349.47" r="4.2" fill="#333"/>
<text x="1569" y="107.6" font-size="17.6" text-anchor="middle" stroke="#000" stroke-width="1.2" letter-spacing="0.9">***</text>
<text x="1578.5" y="381.5" font-size="20.6" text-anchor="end" stroke="#000" stroke-width="0.7" transform="rotate(-50 1578.5 381.5)">Monocytes</text>
<line x1="1607.95" y1="362" x2="1607.95" y2="365.8" stroke="#000" stroke-width="2.2"/>
<line x1="1599.45" y1="190.37" x2="1599.45" y2="280.85" stroke="#333" stroke-width="2"/>
<rect x="1593.75" y="281.85" width="11.4" height="66.62" fill="#F6E3A1" stroke="#333" stroke-width="2"/>
<line x1="1593.75" y1="314.89" x2="1605.15" y2="314.89" stroke="#333" stroke-width="4"/>
<line x1="1615.25" y1="236.03" x2="1615.25" y2="244.88" stroke="#333" stroke-width="2"/>
<line x1="1615.25" y1="290.26" x2="1615.25" y2="322.91" stroke="#333" stroke-width="2"/>
<rect x="1609.55" y="245.88" width="11.4" height="43.38" fill="#CEE4EF" stroke="#333" stroke-width="2"/>
<line x1="1609.55" y1="264.25" x2="1620.95" y2="264.25" stroke="#333" stroke-width="4"/>
<circle cx="1615.25" cy="166.57" r="4.2" fill="#333"/>
<text x="1622.45" y="381.5" font-size="20.6" text-anchor="end" stroke="#000" stroke-width="0.7" transform="rotate(-50 1622.45 381.5)">Macrophages M0</text>
<line x1="1647.3" y1="362" x2="1647.3" y2="365.8" stroke="#000" stroke-width="2.2"/>
<line x1="1638.8" y1="309.35" x2="1638.8" y2="328.17" stroke="#333" stroke-width="2"/>
<line x1="1638.8" y1="344.77" x2="1638.8" y2="350.03" stroke="#333" stroke-width="2"/>
<rect x="1633.1" y="329.17" width="11.4" height="14.6" fill="#F6E3A1" stroke="#333" stroke-width="2"/>
<line x1="1633.1" y1="330.11" x2="1644.5" y2="330.11" stroke="#333" stroke-width="4"/>
<line x1="1654.6" y1="130.05" x2="1654.6" y2="173.77" stroke="#333" stroke-width="2"/>
<line x1="1654.6" y1="234.09" x2="1654.6" y2="267.02" stroke="#333" stroke-width="2"/>
<rect x="1648.9" y="174.77" width="11.4" height="58.32" fill="#CEE4EF" stroke="#333" stroke-width="2"/>
<line x1="1648.9" y1="213.06" x2="1660.3" y2="213.06" stroke="#333" stroke-width="4"/>
<circle cx="1638.8" cy="181.79" r="4.2" fill="#333"/>
<text x="1647.7" y="107.6" font-size="17.6" text-anchor="middle" stroke="#000" stroke-width="1.2" letter-spacing="0.9">***</text>
<text x="1660.8" y="381.5" font-size="20.6" text-anchor="end" stroke="#000" stroke-width="0.7" transform="rotate(-50 1660.8 381.5)">Macrophages M1</text>
<line x1="1686.65" y1="362" x2="1686.65" y2="365.8" stroke="#000" stroke-width="2.2"/>
<line x1="1678.15" y1="138.07" x2="1678.15" y2="169.89" stroke="#333" stroke-width="2"/>
<line x1="1678.15" y1="221.91" x2="1678.15" y2="241.84" stroke="#333" stroke-width="2"/>
<rect x="1672.45" y="170.89" width="11.4" height="50.02" fill="#F6E3A1" stroke="#333" stroke-width="2"/>
<line x1="1672.45" y1="192.86" x2="1683.85" y2="192.86" stroke="#333" stroke-width="4"/>
<line x1="1693.95" y1="290.26" x2="1693.95" y2="296.9" stroke="#333" stroke-width="2"/>
<rect x="1688.25" y="297.9" width="11.4" height="9.34" fill="#CEE4EF" stroke="#333" stroke-width="2"/>
<line x1="1688.25" y1="303.54" x2="1699.65" y2="303.54" stroke="#333" stroke-width="4"/>
<circle cx="1693.95" cy="324.02" r="4.2" fill="#333"/>
<text x="1687.05" y="107.6" font-size="17.6" text-anchor="middle" stroke="#000" stroke-width="1.2" letter-spacing="0.9">***</text>
<text x="1701.15" y="381.5" font-size="20.6" text-anchor="end" stroke="#000" stroke-width="0.7" transform="rotate(-50 1701.15 381.5)">Macrophages M2</text>
<line x1="1726" y1="362" x2="1726" y2="365.8" stroke="#000" stroke-width="2.2"/>
<line x1="1717.5" y1="328.44" x2="1717.5" y2="335.92" stroke="#333" stroke-width="2"/>
<rect x="1711.8" y="336.92" width="11.4" height="12.67" fill="#F6E3A1" stroke="#333" stroke-width="2"/>
<line x1="1711.8" y1="347.54" x2="1723.2" y2="347.54" stroke="#333" stroke-width="4"/>
<line x1="1733.3" y1="326.51" x2="1733.3" y2="336.75" stroke="#333" stroke-width="2"/>
<rect x="1727.6" y="337.75" width="11.4" height="11.84" fill="#CEE4EF" stroke="#333" stroke-width="2"/>
<line x1="1727.6" y1="348.09" x2="1739" y2="348.09" stroke="#333" stroke-width="4"/>
<circle cx="1717.5" cy="256.78" r="4.2" fill="#333"/>
<circle cx="1717.5" cy="306.59" r="4.2" fill="#333"/>
<circle cx="1733.3" cy="249.58" r="4.2" fill="#333"/>
<text x="1733.9" y="381.5" font-size="20.6" text-anchor="end" stroke="#000" stroke-width="0.7" transform="rotate(-50 1733.9 381.5)">Dendritic cells resting</text>
<line x1="1765.35" y1="362" x2="1765.35" y2="365.8" stroke="#000" stroke-width="2.2"/>
<line x1="1750.15" y1="349.93" x2="1763.55" y2="349.93" stroke="#333" stroke-width="4.5"/>
<line x1="1772.65" y1="243.5" x2="1772.65" y2="298.01" stroke="#333" stroke-width="2"/>
<rect x="1766.95" y="299.01" width="11.4" height="50.85" fill="#CEE4EF" stroke="#333" stroke-width="2"/>
<line x1="1766.95" y1="349.75" x2="1778.35" y2="349.75" stroke="#333" stroke-width="4"/>
<text x="1765.75" y="107.6" font-size="17.6" text-anchor="middle" stroke="#000" stroke-width="1.2" letter-spacing="0.9">*</text>
<text x="1776.65" y="381.5" font-size="20.6" text-anchor="end" stroke="#000" stroke-width="0.7" transform="rotate(-50 1776.65 381.5)">Dendritic cells activated</text>
<line x1="1804.7" y1="362" x2="1804.7" y2="365.8" stroke="#000" stroke-width="2.2"/>
<line x1="1796.2" y1="312.12" x2="1796.2" y2="322.08" stroke="#333" stroke-width="2"/>
<rect x="1790.5" y="323.08" width="11.4" height="26.22" fill="#F6E3A1" stroke="#333" stroke-width="2"/>
<line x1="1790.5" y1="332.87" x2="1801.9" y2="332.87" stroke="#333" stroke-width="4"/>
<line x1="1812" y1="333.15" x2="1812" y2="348.09" stroke="#333" stroke-width="2"/>
<rect x="1806.3" y="314.23" width="11.4" height="17.92" fill="#CEE4EF" stroke="#333" stroke-width="2"/>
<line x1="1806.3" y1="323.74" x2="1817.7" y2="323.74" stroke="#333" stroke-width="4"/>
<circle cx="1796.2" cy="227.45" r="4.2" fill="#333"/>
<circle cx="1812" cy="255.95" r="4.2" fill="#333"/>
<text x="1815.3" y="381.5" font-size="20.6" text-anchor="end" stroke="#000" stroke-width="0.7" transform="rotate(-50 1815.3 381.5)">Mast cells resting</text>
<line x1="1844.05" y1="362" x2="1844.05" y2="365.8" stroke="#000" stroke-width="2.2"/>
<line x1="1828.85" y1="349.93" x2="1842.25" y2="349.93" stroke="#333" stroke-width="4.5"/>
<line x1="1851.35" y1="330.66" x2="1851.35" y2="340.07" stroke="#333" stroke-width="2"/>
<rect x="1845.65" y="341.07" width="11.4" height="8.79" fill="#CEE4EF" stroke="#333" stroke-width="2"/>
<line x1="1845.65" y1="349.75" x2="1857.05" y2="349.75" stroke="#333" stroke-width="4"/>
<circle cx="1835.55" cy="269.51" r="4.2" fill="#333"/>
<circle cx="1835.55" cy="333.98" r="4.2" fill="#333"/>
<circle cx="1835.55" cy="336.75" r="4.2" fill="#333"/>
<circle cx="1851.35" cy="258.72" r="4.2" fill="#333"/>
<text x="1857.95" y="381.5" font-size="20.6" text-anchor="end" stroke="#000" stroke-width="0.7" transform="rotate(-50 1857.95 381.5)">Mast cells activated</text>
<line x1="1883.4" y1="362" x2="1883.4" y2="365.8" stroke="#000" stroke-width="2.2"/>
<line x1="1874.9" y1="295.24" x2="1874.9" y2="322.08" stroke="#333" stroke-width="2"/>
<rect x="1869.2" y="323.08" width="11.4" height="26.22" fill="#F6E3A1" stroke="#333" stroke-width="2"/>
<line x1="1869.2" y1="339.79" x2="1880.6" y2="339.79" stroke="#333" stroke-width="4"/>
<line x1="1884" y1="349.93" x2="1897.4" y2="349.93" stroke="#333" stroke-width="4.5"/>
<circle cx="1890.7" cy="325.95" r="4.2" fill="#333"/>
<text x="1887.2" y="381.5" font-size="20.6" text-anchor="end" stroke="#000" stroke-width="0.7" transform="rotate(-50 1887.2 381.5)">Eosinophils</text>
<line x1="1922.75" y1="362" x2="1922.75" y2="365.8" stroke="#000" stroke-width="2.2"/>
<line x1="1914.25" y1="325.68" x2="1914.25" y2="330.11" stroke="#333" stroke-width="2"/>
<rect x="1908.55" y="331.11" width="11.4" height="18.2" fill="#F6E3A1" stroke="#333" stroke-width="2"/>
<line x1="1908.55" y1="347.54" x2="1919.95" y2="347.54" stroke="#333" stroke-width="4"/>
<line x1="1930.05" y1="185.67" x2="1930.05" y2="212.78" stroke="#333" stroke-width="2"/>
<line x1="1930.05" y1="265.91" x2="1930.05" y2="297.73" stroke="#333" stroke-width="2"/>
<rect x="1924.35" y="213.78" width="11.4" height="51.13" fill="#CEE4EF" stroke="#333" stroke-width="2"/>
<line x1="1924.35" y1="229.11" x2="1935.75" y2="229.11" stroke="#333" stroke-width="4"/>
<text x="1923.15" y="107.6" font-size="17.6" text-anchor="middle" stroke="#000" stroke-width="1.2" letter-spacing="0.9">***</text>
<text x="1927.25" y="381.5" font-size="20.6" text-anchor="end" stroke="#000" stroke-width="0.7" transform="rotate(-50 1927.25 381.5)">Neutrophils</text>
<line x1="1430.9" y1="58.9" x2="1430.9" y2="77.6" stroke="#000" stroke-width="2"/>
<rect x="1423.2" y="62.5" width="15.4" height="11.5" fill="#F6E3A1" stroke="#000" stroke-width="2"/>
<line x1="1423.2" y1="68.2" x2="1438.6" y2="68.2" stroke="#000" stroke-width="2"/>
<text x="1451.5" y="74.4" font-size="20.3" stroke="#000" stroke-width="0.69">Cluster 1</text>
<line x1="1546.1" y1="58.9" x2="1546.1" y2="77.6" stroke="#000" stroke-width="2"/>
<rect x="1538.3" y="62.5" width="15.6" height="11.5" fill="#CEE4EF" stroke="#000" stroke-width="2"/>
<line x1="1538.3" y1="68.2" x2="1553.9" y2="68.2" stroke="#000" stroke-width="2"/>
<text x="1558.8" y="74.4" font-size="20.3" stroke="#000" stroke-width="0.69">Cluster 2</text>
<rect x="88.5" y="651.1" width="883.3" height="544.9" fill="none" stroke="#3d3d3d" stroke-width="1.9"/>
<line x1="85" y1="1172.2" x2="88.5" y2="1172.2" stroke="#3d3d3d" stroke-width="1.6"/>
<text x="80.2" y="1177" font-size="16.2" text-anchor="end" fill="#4d4d4d" stroke="#4d4d4d" stroke-width="0.55">0.0</text>
<line x1="85" y1="1038.1" x2="88.5" y2="1038.1" stroke="#3d3d3d" stroke-width="1.6"/>
<text x="80.2" y="1042.9" font-size="16.2" text-anchor="end" fill="#4d4d4d" stroke="#4d4d4d" stroke-width="0.55">0.1</text>
<line x1="85" y1="904.01" x2="88.5" y2="904.01" stroke="#3d3d3d" stroke-width="1.6"/>
<text x="80.2" y="908.81" font-size="16.2" text-anchor="end" fill="#4d4d4d" stroke="#4d4d4d" stroke-width="0.55">0.2</text>
<line x1="85" y1="769.58" x2="88.5" y2="769.58" stroke="#3d3d3d" stroke-width="1.6"/>
<text x="80.2" y="774.38" font-size="16.2" text-anchor="end" fill="#4d4d4d" stroke="#4d4d4d" stroke-width="0.55">0.3</text>
<text x="51.8" y="914" font-size="16.5" text-anchor="middle" stroke="#000" stroke-width="0.8" transform="rotate(-90 51.8 914)">Estimated Proportion</text>
<text x="534.3" y="1214.3" font-size="16.4" text-anchor="middle" stroke="#000" stroke-width="0.8">Cell Type</text>
<line x1="112.5" y1="676.07" x2="112.5" y2="876.72" stroke="#000" stroke-width="2.1"/>
<line x1="112.5" y1="1092.4" x2="112.5" y2="1171.8" stroke="#000" stroke-width="2.1"/>
<rect x="97.55" y="877.77" width="29.9" height="213.58" fill="#E41A1C" stroke="#000" stroke-width="2.1"/>
<line x1="97.55" y1="985.9" x2="127.45" y2="985.9" stroke="#000" stroke-width="3.8"/>
<line x1="152.3" y1="864.92" x2="152.3" y2="919.67" stroke="#000" stroke-width="2.1"/>
<line x1="152.3" y1="1064.53" x2="152.3" y2="1171.8" stroke="#000" stroke-width="2.1"/>
<rect x="137.35" y="920.72" width="29.9" height="142.76" fill="#AE3A4E" stroke="#000" stroke-width="2.1"/>
<line x1="137.35" y1="997.7" x2="167.25" y2="997.7" stroke="#000" stroke-width="3.8"/>
<line x1="192.1" y1="934.1" x2="192.1" y2="985.9" stroke="#000" stroke-width="2.1"/>
<line x1="192.1" y1="1066.17" x2="192.1" y2="1171.8" stroke="#000" stroke-width="2.1"/>
<rect x="177.15" y="986.95" width="29.9" height="78.17" fill="#735B82" stroke="#000" stroke-width="2.1"/>
<line x1="177.15" y1="1017.7" x2="207.05" y2="1017.7" stroke="#000" stroke-width="3.8"/>
<circle cx="192.1" cy="832.79" r="2.5" fill="#735B82" stroke="#000" stroke-width="1.5"/>
<circle cx="192.1" cy="864.26" r="2.5" fill="#735B82" stroke="#000" stroke-width="1.5"/>
<line x1="231.9" y1="1031.15" x2="231.9" y2="1052.79" stroke="#000" stroke-width="2.1"/>
<line x1="231.9" y1="1098.63" x2="231.9" y2="1134.43" stroke="#000" stroke-width="2.1"/>
<rect x="216.95" y="1053.84" width="29.9" height="43.75" fill="#3C7FBF" stroke="#000" stroke-width="2.1"/>
<line x1="216.95" y1="1069.18" x2="246.85" y2="1069.18" stroke="#000" stroke-width="3.8"/>
<circle cx="231.9" cy="930.16" r="2.5" fill="#3C7FBF" stroke="#000" stroke-width="1.5"/>
<circle cx="231.9" cy="939.34" r="2.5" fill="#3C7FBF" stroke="#000" stroke-width="1.5"/>
<line x1="271.7" y1="950.49" x2="271.7" y2="1025.9" stroke="#000" stroke-width="2.1"/>
<line x1="271.7" y1="1108.47" x2="271.7" y2="1171.8" stroke="#000" stroke-width="2.1"/>
<rect x="256.75" y="1026.95" width="29.9" height="80.47" fill="#419094" stroke="#000" stroke-width="2.1"/>
<line x1="256.75" y1="1075.08" x2="286.65" y2="1075.08" stroke="#000" stroke-width="3.8"/>
<circle cx="271.7" cy="885.9" r="2.5" fill="#419094" stroke="#000" stroke-width="1.5"/>
<line x1="311.5" y1="1070.82" x2="311.5" y2="1073.77" stroke="#000" stroke-width="2.1"/>
<line x1="311.5" y1="1128.47" x2="311.5" y2="1171.8" stroke="#000" stroke-width="2.1"/>
<rect x="296.55" y="1074.82" width="29.9" height="52.6" fill="#48A36F" stroke="#000" stroke-width="2.1"/>
<line x1="296.55" y1="1104.59" x2="326.45" y2="1104.59" stroke="#000" stroke-width="3.8"/>
<circle cx="311.5" cy="840.66" r="2.5" fill="#48A36F" stroke="#000" stroke-width="1.5"/>
<circle cx="311.5" cy="917.38" r="2.5" fill="#48A36F" stroke="#000" stroke-width="1.5"/>
<line x1="351.3" y1="1032.46" x2="351.3" y2="1092.79" stroke="#000" stroke-width="2.1"/>
<line x1="351.3" y1="1139.94" x2="351.3" y2="1169.18" stroke="#000" stroke-width="2.1"/>
<rect x="336.35" y="1093.84" width="29.9" height="45.06" fill="#52B04C" stroke="#000" stroke-width="2.1"/>
<line x1="336.35" y1="1110.82" x2="366.25" y2="1110.82" stroke="#000" stroke-width="3.8"/>
<circle cx="351.3" cy="920.66" r="2.5" fill="#52B04C" stroke="#000" stroke-width="1.5"/>
<circle cx="351.3" cy="988.85" r="2.5" fill="#52B04C" stroke="#000" stroke-width="1.5"/>
<line x1="391.1" y1="1062.3" x2="391.1" y2="1099.02" stroke="#000" stroke-width="2.1"/>
<line x1="391.1" y1="1160.27" x2="391.1" y2="1171.8" stroke="#000" stroke-width="2.1"/>
<rect x="376.15" y="1100.07" width="29.9" height="59.16" fill="#6B926B" stroke="#000" stroke-width="2.1"/>
<line x1="376.15" y1="1122.95" x2="406.05" y2="1122.95" stroke="#000" stroke-width="3.8"/>
<line x1="430.9" y1="1040.33" x2="430.9" y2="1110.16" stroke="#000" stroke-width="2.1"/>
<rect x="415.95" y="1111.21" width="29.9" height="60.8" fill="#85728A" stroke="#000" stroke-width="2.1"/>
<line x1="415.95" y1="1136.07" x2="445.85" y2="1136.07" stroke="#000" stroke-width="3.8"/>
<line x1="470.7" y1="1011.15" x2="470.7" y2="1089.84" stroke="#000" stroke-width="2.1"/>
<rect x="455.75" y="1090.89" width="29.9" height="81.12" fill="#984EA3" stroke="#000" stroke-width="2.1"/>
<line x1="455.75" y1="1146.89" x2="485.65" y2="1146.89" stroke="#000" stroke-width="3.8"/>
<circle cx="470.7" cy="901.97" r="2.5" fill="#984EA3" stroke="#000" stroke-width="1.5"/>
<line x1="510.5" y1="1055.08" x2="510.5" y2="1111.15" stroke="#000" stroke-width="2.1"/>
<rect x="495.55" y="1112.2" width="29.9" height="59.81" fill="#BB6170" stroke="#000" stroke-width="2.1"/>
<line x1="495.55" y1="1153.77" x2="525.45" y2="1153.77" stroke="#000" stroke-width="3.8"/>
<circle cx="510.5" cy="899.67" r="2.5" fill="#BB6170" stroke="#000" stroke-width="1.5"/>
<circle cx="510.5" cy="919.67" r="2.5" fill="#BB6170" stroke="#000" stroke-width="1.5"/>
<line x1="550.3" y1="1111.48" x2="550.3" y2="1127.87" stroke="#000" stroke-width="2.1"/>
<rect x="535.35" y="1128.92" width="29.9" height="43.09" fill="#E0733D" stroke="#000" stroke-width="2.1"/>
<line x1="535.35" y1="1159.67" x2="565.25" y2="1159.67" stroke="#000" stroke-width="3.8"/>
<line x1="590.1" y1="987.21" x2="590.1" y2="1070.16" stroke="#000" stroke-width="2.1"/>
<rect x="575.15" y="1071.21" width="29.9" height="100.8" fill="#FF8301" stroke="#000" stroke-width="2.1"/>
<line x1="575.15" y1="1163.93" x2="605.05" y2="1163.93" stroke="#000" stroke-width="3.8"/>
<circle cx="590.1" cy="848.85" r="2.5" fill="#FF8301" stroke="#000" stroke-width="1.5"/>
<circle cx="590.1" cy="869.18" r="2.5" fill="#FF8301" stroke="#000" stroke-width="1.5"/>
<line x1="629.9" y1="1124.26" x2="629.9" y2="1150.16" stroke="#000" stroke-width="2.1"/>
<rect x="614.95" y="1151.21" width="29.9" height="20.8" fill="#FFA622" stroke="#000" stroke-width="2.1"/>
<line x1="614.95" y1="1165.57" x2="644.85" y2="1165.57" stroke="#000" stroke-width="3.8"/>
<line x1="653.7" y1="1171.8" x2="685.7" y2="1171.8" stroke="#000" stroke-width="3.6"/>
<line x1="693.5" y1="1171.8" x2="725.5" y2="1171.8" stroke="#000" stroke-width="3.6"/>
<circle cx="709.5" cy="884.59" r="2.5" fill="#FFFF33" stroke="#000" stroke-width="1.5"/>
<circle cx="709.5" cy="895.41" r="2.5" fill="#FFFF33" stroke="#000" stroke-width="1.5"/>
<line x1="749.3" y1="1152.46" x2="749.3" y2="1156.72" stroke="#000" stroke-width="2.1"/>
<rect x="734.35" y="1157.77" width="29.9" height="14.24" fill="#E1C62F" stroke="#000" stroke-width="2.1"/>
<line x1="734.35" y1="1171.48" x2="764.25" y2="1171.48" stroke="#000" stroke-width="3.8"/>
<circle cx="749.3" cy="1095.41" r="2.5" fill="#E1C62F" stroke="#000" stroke-width="1.5"/>
<circle cx="749.3" cy="1102.62" r="2.5" fill="#E1C62F" stroke="#000" stroke-width="1.5"/>
<circle cx="749.3" cy="1107.54" r="2.5" fill="#E1C62F" stroke="#000" stroke-width="1.5"/>
<line x1="773.1" y1="1171.8" x2="805.1" y2="1171.8" stroke="#000" stroke-width="3.6"/>
<circle cx="789.1" cy="1134.75" r="2.5" fill="#C48D2D" stroke="#000" stroke-width="1.5"/>
<circle cx="789.1" cy="1160.66" r="2.5" fill="#C48D2D" stroke="#000" stroke-width="1.5"/>
<line x1="828.9" y1="1150.16" x2="828.9" y2="1153.77" stroke="#000" stroke-width="2.1"/>
<rect x="813.95" y="1154.82" width="29.9" height="17.19" fill="#AF5B2A" stroke="#000" stroke-width="2.1"/>
<line x1="813.95" y1="1171.48" x2="843.85" y2="1171.48" stroke="#000" stroke-width="3.8"/>
<circle cx="828.9" cy="1055.08" r="2.5" fill="#AF5B2A" stroke="#000" stroke-width="1.5"/>
<line x1="852.7" y1="1171.8" x2="884.7" y2="1171.8" stroke="#000" stroke-width="3.6"/>
<circle cx="868.7" cy="1100.33" r="2.5" fill="#C1645A" stroke="#000" stroke-width="1.5"/>
<circle cx="868.7" cy="1105.25" r="2.5" fill="#C1645A" stroke="#000" stroke-width="1.5"/>
<circle cx="868.7" cy="1163.93" r="2.5" fill="#C1645A" stroke="#000" stroke-width="1.5"/>
<line x1="892.5" y1="1171.8" x2="924.5" y2="1171.8" stroke="#000" stroke-width="3.6"/>
<circle cx="908.5" cy="1142.3" r="2.5" fill="#E37699" stroke="#000" stroke-width="1.5"/>
<circle cx="908.5" cy="1145.57" r="2.5" fill="#E37699" stroke="#000" stroke-width="1.5"/>
<circle cx="908.5" cy="1148.52" r="2.5" fill="#E37699" stroke="#000" stroke-width="1.5"/>
<line x1="932.3" y1="1171.8" x2="964.3" y2="1171.8" stroke="#000" stroke-width="3.6"/>
<circle cx="948.3" cy="1032.13" r="2.5" fill="#F781BF" stroke="#000" stroke-width="1.5"/>
<circle cx="948.3" cy="1111.15" r="2.5" fill="#F781BF" stroke="#000" stroke-width="1.5"/>
<circle cx="948.3" cy="1133.11" r="2.5" fill="#F781BF" stroke="#000" stroke-width="1.5"/>
<line x1="75.55" y1="1243.5" x2="75.55" y2="1261.1" stroke="#111" stroke-width="1.6"/>
<rect x="67.1" y="1246.8" width="16.9" height="11" fill="#E94345" stroke="#111" stroke-width="1.6"/>
<line x1="67.1" y1="1252.3" x2="84" y2="1252.3" stroke="#111" stroke-width="1.6"/>
<text x="94.5" y="1257.1" font-size="16.4" stroke="#000" stroke-width="0.56">Macrophages M0</text>
<line x1="75.55" y1="1273.1" x2="75.55" y2="1290.7" stroke="#111" stroke-width="1.6"/>
<rect x="67.1" y="1276.4" width="16.9" height="11" fill="#BD5D6E" stroke="#111" stroke-width="1.6"/>
<line x1="67.1" y1="1281.9" x2="84" y2="1281.9" stroke="#111" stroke-width="1.6"/>
<text x="94.5" y="1286.7" font-size="16.4" stroke="#000" stroke-width="0.56">Macrophages M2</text>
<line x1="75.55" y1="1302.7" x2="75.55" y2="1320.3" stroke="#111" stroke-width="1.6"/>
<rect x="67.1" y="1306" width="16.9" height="11" fill="#8C7998" stroke="#111" stroke-width="1.6"/>
<line x1="67.1" y1="1311.5" x2="84" y2="1311.5" stroke="#111" stroke-width="1.6"/>
<text x="94.5" y="1316.3" font-size="16.4" stroke="#000" stroke-width="0.56">T cells CD4 memory resting</text>
<line x1="75.55" y1="1332.3" x2="75.55" y2="1349.9" stroke="#111" stroke-width="1.6"/>
<rect x="67.1" y="1335.6" width="16.9" height="11" fill="#5F96CB" stroke="#111" stroke-width="1.6"/>
<line x1="67.1" y1="1341.1" x2="84" y2="1341.1" stroke="#111" stroke-width="1.6"/>
<text x="94.5" y="1345.9" font-size="16.4" stroke="#000" stroke-width="0.56">Monocytes</text>
<line x1="75.55" y1="1361.9" x2="75.55" y2="1379.5" stroke="#111" stroke-width="1.6"/>
<rect x="67.1" y="1365.2" width="16.9" height="11" fill="#63A4A7" stroke="#111" stroke-width="1.6"/>
<line x1="67.1" y1="1370.7" x2="84" y2="1370.7" stroke="#111" stroke-width="1.6"/>
<text x="94.5" y="1375.5" font-size="16.4" stroke="#000" stroke-width="0.56">T cells CD8</text>
<line x1="316.55" y1="1243.5" x2="316.55" y2="1261.1" stroke="#111" stroke-width="1.6"/>
<rect x="308.1" y="1246.8" width="16.9" height="11" fill="#69B489" stroke="#111" stroke-width="1.6"/>
<line x1="308.1" y1="1252.3" x2="325" y2="1252.3" stroke="#111" stroke-width="1.6"/>
<text x="335.5" y="1257.1" font-size="16.4" stroke="#000" stroke-width="0.56">Mast cells resting</text>
<line x1="316.55" y1="1273.1" x2="316.55" y2="1290.7" stroke="#111" stroke-width="1.6"/>
<rect x="308.1" y="1276.4" width="16.9" height="11" fill="#71BE6C" stroke="#111" stroke-width="1.6"/>
<line x1="308.1" y1="1281.9" x2="325" y2="1281.9" stroke="#111" stroke-width="1.6"/>
<text x="335.5" y="1286.7" font-size="16.4" stroke="#000" stroke-width="0.56">B cells naive</text>
<line x1="316.55" y1="1302.7" x2="316.55" y2="1320.3" stroke="#111" stroke-width="1.6"/>
<rect x="308.1" y="1306" width="16.9" height="11" fill="#86A686" stroke="#111" stroke-width="1.6"/>
<line x1="308.1" y1="1311.5" x2="325" y2="1311.5" stroke="#111" stroke-width="1.6"/>
<text x="335.5" y="1316.3" font-size="16.4" stroke="#000" stroke-width="0.56">Macrophages M1</text>
<line x1="316.55" y1="1332.3" x2="316.55" y2="1349.9" stroke="#111" stroke-width="1.6"/>
<rect x="308.1" y="1335.6" width="16.9" height="11" fill="#9B8B9F" stroke="#111" stroke-width="1.6"/>
<line x1="308.1" y1="1341.1" x2="325" y2="1341.1" stroke="#111" stroke-width="1.6"/>
<text x="335.5" y="1345.9" font-size="16.4" stroke="#000" stroke-width="0.56">NK cells resting</text>
<line x1="316.55" y1="1361.9" x2="316.55" y2="1379.5" stroke="#111" stroke-width="1.6"/>
<rect x="308.1" y="1365.2" width="16.9" height="11" fill="#AB6EB4" stroke="#111" stroke-width="1.6"/>
<line x1="308.1" y1="1370.7" x2="325" y2="1370.7" stroke="#111" stroke-width="1.6"/>
<text x="335.5" y="1375.5" font-size="16.4" stroke="#000" stroke-width="0.56">T cells regulatory (Tregs)</text>
<line x1="543.55" y1="1243.5" x2="543.55" y2="1261.1" stroke="#111" stroke-width="1.6"/>
<rect x="535.1" y="1246.8" width="16.9" height="11" fill="#C77D8A" stroke="#111" stroke-width="1.6"/>
<line x1="535.1" y1="1252.3" x2="552" y2="1252.3" stroke="#111" stroke-width="1.6"/>
<text x="562.5" y="1257.1" font-size="16.4" stroke="#000" stroke-width="0.56">Dendritic cells resting</text>
<line x1="543.55" y1="1273.1" x2="543.55" y2="1290.7" stroke="#111" stroke-width="1.6"/>
<rect x="535.1" y="1276.4" width="16.9" height="11" fill="#E68C60" stroke="#111" stroke-width="1.6"/>
<line x1="535.1" y1="1281.9" x2="552" y2="1281.9" stroke="#111" stroke-width="1.6"/>
<text x="562.5" y="1286.7" font-size="16.4" stroke="#000" stroke-width="0.56">Neutrophils</text>
<line x1="543.55" y1="1302.7" x2="543.55" y2="1320.3" stroke="#111" stroke-width="1.6"/>
<rect x="535.1" y="1306" width="16.9" height="11" fill="#FF992F" stroke="#111" stroke-width="1.6"/>
<line x1="535.1" y1="1311.5" x2="552" y2="1311.5" stroke="#111" stroke-width="1.6"/>
<text x="562.5" y="1316.3" font-size="16.4" stroke="#000" stroke-width="0.56">T cells CD4 memory activated</text>
<line x1="543.55" y1="1332.3" x2="543.55" y2="1349.9" stroke="#111" stroke-width="1.6"/>
<rect x="535.1" y="1335.6" width="16.9" height="11" fill="#FFB64A" stroke="#111" stroke-width="1.6"/>
<line x1="535.1" y1="1341.1" x2="552" y2="1341.1" stroke="#111" stroke-width="1.6"/>
<text x="562.5" y="1345.9" font-size="16.4" stroke="#000" stroke-width="0.56">Plasma cells</text>
<line x1="543.55" y1="1361.9" x2="543.55" y2="1379.5" stroke="#111" stroke-width="1.6"/>
<rect x="535.1" y="1365.2" width="16.9" height="11" fill="#FFDA57" stroke="#111" stroke-width="1.6"/>
<line x1="535.1" y1="1370.7" x2="552" y2="1370.7" stroke="#111" stroke-width="1.6"/>
<text x="562.5" y="1375.5" font-size="16.4" stroke="#000" stroke-width="0.56">B cells memory</text>
<line x1="797.05" y1="1243.5" x2="797.05" y2="1261.1" stroke="#111" stroke-width="1.6"/>
<rect x="788.6" y="1246.8" width="16.9" height="11" fill="#FFFF58" stroke="#111" stroke-width="1.6"/>
<line x1="788.6" y1="1252.3" x2="805.5" y2="1252.3" stroke="#111" stroke-width="1.6"/>
<text x="815.4" y="1257.1" font-size="16.4" stroke="#000" stroke-width="0.56">Dendritic cells activated</text>
<line x1="797.05" y1="1273.1" x2="797.05" y2="1290.7" stroke="#111" stroke-width="1.6"/>
<rect x="788.6" y="1276.4" width="16.9" height="11" fill="#E6D054" stroke="#111" stroke-width="1.6"/>
<line x1="788.6" y1="1281.9" x2="805.5" y2="1281.9" stroke="#111" stroke-width="1.6"/>
<text x="815.4" y="1286.7" font-size="16.4" stroke="#000" stroke-width="0.56">Eosinophils</text>
<line x1="797.05" y1="1302.7" x2="797.05" y2="1320.3" stroke="#111" stroke-width="1.6"/>
<rect x="788.6" y="1306" width="16.9" height="11" fill="#CFA253" stroke="#111" stroke-width="1.6"/>
<line x1="788.6" y1="1311.5" x2="805.5" y2="1311.5" stroke="#111" stroke-width="1.6"/>
<text x="815.4" y="1316.3" font-size="16.4" stroke="#000" stroke-width="0.56">Mast cells activated</text>
<line x1="797.05" y1="1332.3" x2="797.05" y2="1349.9" stroke="#111" stroke-width="1.6"/>
<rect x="788.6" y="1335.6" width="16.9" height="11" fill="#BD7950" stroke="#111" stroke-width="1.6"/>
<line x1="788.6" y1="1341.1" x2="805.5" y2="1341.1" stroke="#111" stroke-width="1.6"/>
<text x="815.4" y="1345.9" font-size="16.4" stroke="#000" stroke-width="0.56">NK cells activated</text>
<line x1="797.05" y1="1361.9" x2="797.05" y2="1379.5" stroke="#111" stroke-width="1.6"/>
<rect x="788.6" y="1365.2" width="16.9" height="11" fill="#CC8078" stroke="#111" stroke-width="1.6"/>
<line x1="788.6" y1="1370.7" x2="805.5" y2="1370.7" stroke="#111" stroke-width="1.6"/>
<text x="815.4" y="1375.5" font-size="16.4" stroke="#000" stroke-width="0.56">T cells CD4 naive</text>
<line x1="797.05" y1="1394.2" x2="797.05" y2="1411.8" stroke="#111" stroke-width="1.6"/>
<rect x="788.6" y="1397.5" width="16.9" height="11" fill="#E88FAB" stroke="#111" stroke-width="1.6"/>
<line x1="788.6" y1="1403" x2="805.5" y2="1403" stroke="#111" stroke-width="1.6"/>
<text x="815.4" y="1407.8" font-size="16.4" stroke="#000" stroke-width="0.56">T cells follicular helper</text>
<line x1="797.05" y1="1424.2" x2="797.05" y2="1441.8" stroke="#111" stroke-width="1.6"/>
<rect x="788.6" y="1427.5" width="16.9" height="11" fill="#F898CB" stroke="#111" stroke-width="1.6"/>
<line x1="788.6" y1="1433" x2="805.5" y2="1433" stroke="#111" stroke-width="1.6"/>
<text x="815.4" y="1437.8" font-size="16.4" stroke="#000" stroke-width="0.56">T cells gamma delta</text>
<line x1="1270" y1="652.1" x2="1270" y2="1289.3" stroke="#EBEBEB" stroke-width="2"/>
<line x1="1395.9" y1="652.1" x2="1395.9" y2="1289.3" stroke="#EBEBEB" stroke-width="2"/>
<line x1="1521.8" y1="652.1" x2="1521.8" y2="1289.3" stroke="#EBEBEB" stroke-width="2"/>
<line x1="1647.7" y1="652.1" x2="1647.7" y2="1289.3" stroke="#EBEBEB" stroke-width="2"/>
<line x1="1773.6" y1="652.1" x2="1773.6" y2="1289.3" stroke="#EBEBEB" stroke-width="2"/>
<line x1="1332.95" y1="652.1" x2="1332.95" y2="1289.3" stroke="#EEEEEE" stroke-width="1.6"/>
<line x1="1458.85" y1="652.1" x2="1458.85" y2="1289.3" stroke="#EEEEEE" stroke-width="1.6"/>
<line x1="1584.75" y1="652.1" x2="1584.75" y2="1289.3" stroke="#EEEEEE" stroke-width="1.6"/>
<line x1="1710.65" y1="652.1" x2="1710.65" y2="1289.3" stroke="#EEEEEE" stroke-width="1.6"/>
<line x1="1211.3" y1="669.9" x2="1800" y2="669.9" stroke="#EBEBEB" stroke-width="2"/>
<line x1="1211.3" y1="698.52" x2="1800" y2="698.52" stroke="#EBEBEB" stroke-width="2"/>
<line x1="1211.3" y1="727.14" x2="1800" y2="727.14" stroke="#EBEBEB" stroke-width="2"/>
<line x1="1211.3" y1="755.76" x2="1800" y2="755.76" stroke="#EBEBEB" stroke-width="2"/>
<line x1="1211.3" y1="784.38" x2="1800" y2="784.38" stroke="#EBEBEB" stroke-width="2"/>
<line x1="1211.3" y1="813" x2="1800" y2="813" stroke="#EBEBEB" stroke-width="2"/>
<line x1="1211.3" y1="841.62" x2="1800" y2="841.62" stroke="#EBEBEB" stroke-width="2"/>
<line x1="1211.3" y1="870.24" x2="1800" y2="870.24" stroke="#EBEBEB" stroke-width="2"/>
<line x1="1211.3" y1="898.86" x2="1800" y2="898.86" stroke="#EBEBEB" stroke-width="2"/>
<line x1="1211.3" y1="927.48" x2="1800" y2="927.48" stroke="#EBEBEB" stroke-width="2"/>
<line x1="1211.3" y1="956.1" x2="1800" y2="956.1" stroke="#EBEBEB" stroke-width="2"/>
<line x1="1211.3" y1="984.72" x2="1800" y2="984.72" stroke="#EBEBEB" stroke-width="2"/>
<line x1="1211.3" y1="1013.34" x2="1800" y2="1013.34" stroke="#EBEBEB" stroke-width="2"/>
<line x1="1211.3" y1="1041.96" x2="1800" y2="1041.96" stroke="#EBEBEB" stroke-width="2"/>
<line x1="1211.3" y1="1070.58" x2="1800" y2="1070.58" stroke="#EBEBEB" stroke-width="2"/>
<line x1="1211.3" y1="1099.2" x2="1800" y2="1099.2" stroke="#EBEBEB" stroke-width="2"/>
<line x1="1211.3" y1="1127.82" x2="1800" y2="1127.82" stroke="#EBEBEB" stroke-width="2"/>
<line x1="1211.3" y1="1156.44" x2="1800" y2="1156.44" stroke="#EBEBEB" stroke-width="2"/>
<line x1="1211.3" y1="1185.06" x2="1800" y2="1185.06" stroke="#EBEBEB" stroke-width="2"/>
<line x1="1211.3" y1="1213.68" x2="1800" y2="1213.68" stroke="#EBEBEB" stroke-width="2"/>
<line x1="1211.3" y1="1242.3" x2="1800" y2="1242.3" stroke="#EBEBEB" stroke-width="2"/>
<line x1="1211.3" y1="1270.92" x2="1800" y2="1270.92" stroke="#EBEBEB" stroke-width="2"/>
<line x1="1496.5" y1="669.9" x2="1773.6" y2="669.9" stroke="#000" stroke-width="2.1"/>
<circle cx="1496.5" cy="669.9" r="5" fill="#984EA3"/>
<text x="1201.9" y="675.6" font-size="20.4" text-anchor="end" fill="#4d4d4d" stroke="#4d4d4d" stroke-width="0.69">Treg</text>
<line x1="1485.7" y1="698.52" x2="1773.6" y2="698.52" stroke="#000" stroke-width="2.1"/>
<circle cx="1485.7" cy="698.52" r="7.2" fill="#986B9D"/>
<text x="1201.9" y="704.22" font-size="20.4" text-anchor="end" fill="#4d4d4d" stroke="#4d4d4d" stroke-width="0.69">Type_II_IFN_Reponse</text>
<line x1="1479.3" y1="727.14" x2="1773.6" y2="727.14" stroke="#000" stroke-width="2.1"/>
<circle cx="1479.3" cy="727.14" r="7.7" fill="#977C99"/>
<text x="1201.9" y="732.84" font-size="20.4" text-anchor="end" fill="#4d4d4d" stroke="#4d4d4d" stroke-width="0.69">APC_co_stimulation</text>
<line x1="1445.1" y1="755.76" x2="1773.6" y2="755.76" stroke="#000" stroke-width="2.1"/>
<circle cx="1445.1" cy="755.76" r="9.6" fill="#91A08E"/>
<text x="1201.9" y="761.46" font-size="20.4" text-anchor="end" fill="#4d4d4d" stroke="#4d4d4d" stroke-width="0.69">Mast_cells</text>
<line x1="1426" y1="784.38" x2="1773.6" y2="784.38" stroke="#000" stroke-width="2.1"/>
<circle cx="1426" cy="784.38" r="10.2" fill="#8DAC8A"/>
<text x="1201.9" y="790.08" font-size="20.4" text-anchor="end" fill="#4d4d4d" stroke="#4d4d4d" stroke-width="0.69">Th2_cells</text>
<line x1="1422.13" y1="813" x2="1773.6" y2="813" stroke="#000" stroke-width="2.1"/>
<circle cx="1422.13" cy="813" r="10.3" fill="#8CAE89"/>
<text x="1201.9" y="818.7" font-size="20.4" text-anchor="end" fill="#4d4d4d" stroke="#4d4d4d" stroke-width="0.69">Cytolytic_activity</text>
<line x1="1398.06" y1="841.62" x2="1773.6" y2="841.62" stroke="#000" stroke-width="2.1"/>
<circle cx="1398.06" cy="841.62" r="11.1" fill="#85BE84"/>
<text x="1201.9" y="847.32" font-size="20.4" text-anchor="end" fill="#4d4d4d" stroke="#4d4d4d" stroke-width="0.69">T_cell_co−stimulation</text>
<line x1="1395.84" y1="870.24" x2="1773.6" y2="870.24" stroke="#000" stroke-width="2.1"/>
<circle cx="1395.84" cy="870.24" r="11.3" fill="#85BF83"/>
<text x="1201.9" y="875.94" font-size="20.4" text-anchor="end" fill="#4d4d4d" stroke="#4d4d4d" stroke-width="0.69">pDCs</text>
<line x1="1371.22" y1="898.86" x2="1773.6" y2="898.86" stroke="#000" stroke-width="2.1"/>
<circle cx="1371.22" cy="898.86" r="12" fill="#81C581"/>
<text x="1201.9" y="904.56" font-size="20.4" text-anchor="end" fill="#4d4d4d" stroke="#4d4d4d" stroke-width="0.69">Parainflammation</text>
<line x1="1366.79" y1="927.48" x2="1773.6" y2="927.48" stroke="#000" stroke-width="2.1"/>
<circle cx="1366.79" cy="927.48" r="12.2" fill="#81C680"/>
<text x="1201.9" y="933.18" font-size="20.4" text-anchor="end" fill="#4d4d4d" stroke="#4d4d4d" stroke-width="0.69">aDCs</text>
<line x1="1365.96" y1="956.1" x2="1773.6" y2="956.1" stroke="#000" stroke-width="2.1"/>
<circle cx="1365.96" cy="956.1" r="12.2" fill="#81C680"/>
<text x="1201.9" y="961.8" font-size="20.4" text-anchor="end" fill="#4d4d4d" stroke="#4d4d4d" stroke-width="0.69">Neutrophils</text>
<line x1="1358.21" y1="984.72" x2="1773.6" y2="984.72" stroke="#000" stroke-width="2.1"/>
<circle cx="1358.21" cy="984.72" r="12.3" fill="#80C780"/>
<text x="1201.9" y="990.42" font-size="20.4" text-anchor="end" fill="#4d4d4d" stroke="#4d4d4d" stroke-width="0.69">Th1_cells</text>
<line x1="1354.06" y1="1013.34" x2="1773.6" y2="1013.34" stroke="#000" stroke-width="2.1"/>
<circle cx="1354.06" cy="1013.34" r="12.5" fill="#7FC97F"/>
<text x="1201.9" y="1019.04" font-size="20.4" text-anchor="end" fill="#4d4d4d" stroke="#4d4d4d" stroke-width="0.69">CCR</text>
<line x1="1348.53" y1="1041.96" x2="1773.6" y2="1041.96" stroke="#000" stroke-width="2.1"/>
<circle cx="1348.53" cy="1041.96" r="12.7" fill="#7FC97F"/>
<text x="1201.9" y="1047.66" font-size="20.4" text-anchor="end" fill="#4d4d4d" stroke="#4d4d4d" stroke-width="0.69">Inflammation−promoting</text>
<line x1="1329.44" y1="1070.58" x2="1773.6" y2="1070.58" stroke="#000" stroke-width="2.1"/>
<circle cx="1329.44" cy="1070.58" r="13" fill="#7FC97F"/>
<text x="1201.9" y="1076.28" font-size="20.4" text-anchor="end" fill="#4d4d4d" stroke="#4d4d4d" stroke-width="0.69">APC_co_inhibition</text>
<line x1="1327.5" y1="1099.2" x2="1773.6" y2="1099.2" stroke="#000" stroke-width="2.1"/>
<circle cx="1327.5" cy="1099.2" r="13.1" fill="#7FC97F"/>
<text x="1201.9" y="1104.9" font-size="20.4" text-anchor="end" fill="#4d4d4d" stroke="#4d4d4d" stroke-width="0.69">DCs</text>
<line x1="1321.13" y1="1127.82" x2="1773.6" y2="1127.82" stroke="#000" stroke-width="2.1"/>
<circle cx="1321.13" cy="1127.82" r="13.3" fill="#7FC97F"/>
<text x="1201.9" y="1133.52" font-size="20.4" text-anchor="end" fill="#4d4d4d" stroke="#4d4d4d" stroke-width="0.69">T_cell_co−inhibition</text>
<line x1="1314.49" y1="1156.44" x2="1773.6" y2="1156.44" stroke="#000" stroke-width="2.1"/>
<circle cx="1314.49" cy="1156.44" r="13.4" fill="#7FC97F"/>
<text x="1201.9" y="1162.14" font-size="20.4" text-anchor="end" fill="#4d4d4d" stroke="#4d4d4d" stroke-width="0.69">T_helper_cells</text>
<line x1="1307.02" y1="1185.06" x2="1773.6" y2="1185.06" stroke="#000" stroke-width="2.1"/>
<circle cx="1307.02" cy="1185.06" r="13.6" fill="#7FC97F"/>
<text x="1201.9" y="1190.76" font-size="20.4" text-anchor="end" fill="#4d4d4d" stroke="#4d4d4d" stroke-width="0.69">Check−point</text>
<line x1="1255.83" y1="1213.68" x2="1773.6" y2="1213.68" stroke="#000" stroke-width="2.1"/>
<circle cx="1255.83" cy="1213.68" r="14.7" fill="#7FC97F"/>
<text x="1201.9" y="1219.38" font-size="20.4" text-anchor="end" fill="#4d4d4d" stroke="#4d4d4d" stroke-width="0.69">Macrophages</text>
<line x1="1242" y1="1242.3" x2="1773.6" y2="1242.3" stroke="#000" stroke-width="2.1"/>
<circle cx="1242" cy="1242.3" r="15" fill="#7FC97F"/>
<text x="1201.9" y="1248" font-size="20.4" text-anchor="end" fill="#4d4d4d" stroke="#4d4d4d" stroke-width="0.69">TIL</text>
<line x1="1238.4" y1="1270.92" x2="1773.6" y2="1270.92" stroke="#000" stroke-width="2.1"/>
<circle cx="1238.4" cy="1270.92" r="15.2" fill="#7FC97F"/>
<text x="1201.9" y="1276.62" font-size="20.4" text-anchor="end" fill="#4d4d4d" stroke="#4d4d4d" stroke-width="0.69">B_cells</text>
<text x="1267.8" y="1306.9" font-size="20.4" text-anchor="middle" fill="#4d4d4d" stroke="#4d4d4d" stroke-width="0.69">−0.8</text>
<text x="1393.7" y="1306.9" font-size="20.4" text-anchor="middle" fill="#4d4d4d" stroke="#4d4d4d" stroke-width="0.69">−0.6</text>
<text x="1519.6" y="1306.9" font-size="20.4" text-anchor="middle" fill="#4d4d4d" stroke="#4d4d4d" stroke-width="0.69">−0.4</text>
<text x="1645.5" y="1306.9" font-size="20.4" text-anchor="middle" fill="#4d4d4d" stroke="#4d4d4d" stroke-width="0.69">−0.2</text>
<text x="1769.2" y="1306.9" font-size="20.4" text-anchor="middle" fill="#4d4d4d" stroke="#4d4d4d" stroke-width="0.69">0.0</text>
<text x="1510.7" y="1339.6" font-size="20.4" text-anchor="middle" stroke="#000" stroke-width="0.69">Correlation</text>
<text x="1510.6" y="643.7" font-size="20.4" text-anchor="middle" stroke="#000" stroke-width="0.69">BTBD10</text>
<text x="1801.1" y="811.7" font-size="20.5" stroke="#000" stroke-width="0.7">abs(correlation)</text>
<circle cx="1843.5" cy="836" r="9.1" fill="#000"/>
<text x="1869.7" y="841.8" font-size="20.5" stroke="#000" stroke-width="0.7">0.5</text>
<circle cx="1843.5" cy="864.2" r="11.3" fill="#000"/>
<text x="1869.7" y="870" font-size="20.5" stroke="#000" stroke-width="0.7">0.6</text>
<circle cx="1843.5" cy="893.3" r="13.3" fill="#000"/>
<text x="1869.7" y="899.1" font-size="20.5" stroke="#000" stroke-width="0.7">0.7</text>
<circle cx="1843.5" cy="926.5" r="14.9" fill="#000"/>
<text x="1869.7" y="932.3" font-size="20.5" stroke="#000" stroke-width="0.7">0.8</text>
<text x="1826.9" y="993.6" font-size="20.4" stroke="#000" stroke-width="0.7"><tspan font-style="italic">P</tspan>-value</text>
<defs><linearGradient id="gD" x1="0" y1="0" x2="0" y2="1"><stop offset="0" stop-color="#984EA3"/><stop offset="0.12" stop-color="#99609F"/><stop offset="0.25" stop-color="#98709C"/><stop offset="0.38" stop-color="#978098"/><stop offset="0.5" stop-color="#958F93"/><stop offset="0.62" stop-color="#929E8F"/><stop offset="0.75" stop-color="#8DAC8A"/><stop offset="0.88" stop-color="#87BB85"/><stop offset="1" stop-color="#7FC97F"/></linearGradient></defs>
<rect x="1827.1" y="1004.3" width="28" height="138.6" fill="url(#gD)"/>
<line x1="1827.1" y1="1022" x2="1832.7" y2="1022" stroke="#fff" stroke-width="1.7"/>
<line x1="1849.5" y1="1022" x2="1855.1" y2="1022" stroke="#fff" stroke-width="1.7"/>
<text x="1862.8" y="1027.1" font-size="20.5" stroke="#000" stroke-width="0.7">0.04</text>
<line x1="1827.1" y1="1052.4" x2="1832.7" y2="1052.4" stroke="#fff" stroke-width="1.7"/>
<line x1="1849.5" y1="1052.4" x2="1855.1" y2="1052.4" stroke="#fff" stroke-width="1.7"/>
<text x="1862.8" y="1057.5" font-size="20.5" stroke="#000" stroke-width="0.7">0.03</text>
<line x1="1827.1" y1="1082.6" x2="1832.7" y2="1082.6" stroke="#fff" stroke-width="1.7"/>
<line x1="1849.5" y1="1082.6" x2="1855.1" y2="1082.6" stroke="#fff" stroke-width="1.7"/>
<text x="1862.8" y="1087.7" font-size="20.5" stroke="#000" stroke-width="0.7">0.02</text>
<line x1="1827.1" y1="1113" x2="1832.7" y2="1113" stroke="#fff" stroke-width="1.7"/>
<line x1="1849.5" y1="1113" x2="1855.1" y2="1113" stroke="#fff" stroke-width="1.7"/>
<text x="1862.8" y="1118.1" font-size="20.5" stroke="#000" stroke-width="0.7">0.01</text>
<line x1="253.2" y1="1512.5" x2="253.2" y2="2148.1" stroke="#EBEBEB" stroke-width="2"/>
<line x1="379.82" y1="1512.5" x2="379.82" y2="2148.1" stroke="#EBEBEB" stroke-width="2"/>
<line x1="506.44" y1="1512.5" x2="506.44" y2="2148.1" stroke="#EBEBEB" stroke-width="2"/>
<line x1="633.06" y1="1512.5" x2="633.06" y2="2148.1" stroke="#EBEBEB" stroke-width="2"/>
<line x1="759.68" y1="1512.5" x2="759.68" y2="2148.1" stroke="#EBEBEB" stroke-width="2"/>
<line x1="316.51" y1="1512.5" x2="316.51" y2="2148.1" stroke="#EEEEEE" stroke-width="1.6"/>
<line x1="443.13" y1="1512.5" x2="443.13" y2="2148.1" stroke="#EEEEEE" stroke-width="1.6"/>
<line x1="569.75" y1="1512.5" x2="569.75" y2="2148.1" stroke="#EEEEEE" stroke-width="1.6"/>
<line x1="696.37" y1="1512.5" x2="696.37" y2="2148.1" stroke="#EEEEEE" stroke-width="1.6"/>
<line x1="226.3" y1="1530.2" x2="814.8" y2="1530.2" stroke="#EBEBEB" stroke-width="2"/>
<line x1="226.3" y1="1560.2" x2="814.8" y2="1560.2" stroke="#EBEBEB" stroke-width="2"/>
<line x1="226.3" y1="1590.2" x2="814.8" y2="1590.2" stroke="#EBEBEB" stroke-width="2"/>
<line x1="226.3" y1="1620.2" x2="814.8" y2="1620.2" stroke="#EBEBEB" stroke-width="2"/>
<line x1="226.3" y1="1650.2" x2="814.8" y2="1650.2" stroke="#EBEBEB" stroke-width="2"/>
<line x1="226.3" y1="1680.2" x2="814.8" y2="1680.2" stroke="#EBEBEB" stroke-width="2"/>
<line x1="226.3" y1="1710.2" x2="814.8" y2="1710.2" stroke="#EBEBEB" stroke-width="2"/>
<line x1="226.3" y1="1740.2" x2="814.8" y2="1740.2" stroke="#EBEBEB" stroke-width="2"/>
<line x1="226.3" y1="1770.2" x2="814.8" y2="1770.2" stroke="#EBEBEB" stroke-width="2"/>
<line x1="226.3" y1="1800.2" x2="814.8" y2="1800.2" stroke="#EBEBEB" stroke-width="2"/>
<line x1="226.3" y1="1830.2" x2="814.8" y2="1830.2" stroke="#EBEBEB" stroke-width="2"/>
<line x1="226.3" y1="1860.2" x2="814.8" y2="1860.2" stroke="#EBEBEB" stroke-width="2"/>
<line x1="226.3" y1="1890.2" x2="814.8" y2="1890.2" stroke="#EBEBEB" stroke-width="2"/>
<line x1="226.3" y1="1920.2" x2="814.8" y2="1920.2" stroke="#EBEBEB" stroke-width="2"/>
<line x1="226.3" y1="1950.2" x2="814.8" y2="1950.2" stroke="#EBEBEB" stroke-width="2"/>
<line x1="226.3" y1="1980.2" x2="814.8" y2="1980.2" stroke="#EBEBEB" stroke-width="2"/>
<line x1="226.3" y1="2010.2" x2="814.8" y2="2010.2" stroke="#EBEBEB" stroke-width="2"/>
<line x1="226.3" y1="2040.2" x2="814.8" y2="2040.2" stroke="#EBEBEB" stroke-width="2"/>
<line x1="226.3" y1="2070.2" x2="814.8" y2="2070.2" stroke="#EBEBEB" stroke-width="2"/>
<line x1="226.3" y1="2100.2" x2="814.8" y2="2100.2" stroke="#EBEBEB" stroke-width="2"/>
<line x1="226.3" y1="2130.2" x2="814.8" y2="2130.2" stroke="#EBEBEB" stroke-width="2"/>
<line x1="253.2" y1="1530.2" x2="787.93" y2="1530.2" stroke="#000" stroke-width="2.1"/>
<circle cx="787.93" cy="1530.2" r="15.2" fill="#7FC97F"/>
<text x="217.8" y="1536.2" font-size="20.4" text-anchor="end" fill="#4d4d4d" stroke="#4d4d4d" stroke-width="0.69">TIL</text>
<line x1="253.2" y1="1560.2" x2="744.76" y2="1560.2" stroke="#000" stroke-width="2.1"/>
<circle cx="744.76" cy="1560.2" r="14.4" fill="#7FC97F"/>
<text x="217.8" y="1566.2" font-size="20.4" text-anchor="end" fill="#4d4d4d" stroke="#4d4d4d" stroke-width="0.69">Type_II_IFN_Reponse</text>
<line x1="253.2" y1="1590.2" x2="725.95" y2="1590.2" stroke="#000" stroke-width="2.1"/>
<circle cx="725.95" cy="1590.2" r="13.9" fill="#7FC97F"/>
<text x="217.8" y="1596.2" font-size="20.4" text-anchor="end" fill="#4d4d4d" stroke="#4d4d4d" stroke-width="0.69">Macrophages</text>
<line x1="253.2" y1="1620.2" x2="714.6" y2="1620.2" stroke="#000" stroke-width="2.1"/>
<circle cx="714.6" cy="1620.2" r="13.6" fill="#7FC97F"/>
<text x="217.8" y="1626.2" font-size="20.4" text-anchor="end" fill="#4d4d4d" stroke="#4d4d4d" stroke-width="0.69">Check−point</text>
<line x1="253.2" y1="1650.2" x2="694.68" y2="1650.2" stroke="#000" stroke-width="2.1"/>
<circle cx="694.68" cy="1650.2" r="13.1" fill="#7FC97F"/>
<text x="217.8" y="1656.2" font-size="20.4" text-anchor="end" fill="#4d4d4d" stroke="#4d4d4d" stroke-width="0.69">B_cells</text>
<line x1="253.2" y1="1680.2" x2="691.36" y2="1680.2" stroke="#000" stroke-width="2.1"/>
<circle cx="691.36" cy="1680.2" r="13.1" fill="#7FC97F"/>
<text x="217.8" y="1686.2" font-size="20.4" text-anchor="end" fill="#4d4d4d" stroke="#4d4d4d" stroke-width="0.69">T_cell_co−inhibition</text>
<line x1="253.2" y1="1710.2" x2="690.53" y2="1710.2" stroke="#000" stroke-width="2.1"/>
<circle cx="690.53" cy="1710.2" r="13" fill="#7FC97F"/>
<text x="217.8" y="1716.2" font-size="20.4" text-anchor="end" fill="#4d4d4d" stroke="#4d4d4d" stroke-width="0.69">Treg</text>
<line x1="253.2" y1="1740.2" x2="689.42" y2="1740.2" stroke="#000" stroke-width="2.1"/>
<circle cx="689.42" cy="1740.2" r="13" fill="#7FC97F"/>
<text x="217.8" y="1746.2" font-size="20.4" text-anchor="end" fill="#4d4d4d" stroke="#4d4d4d" stroke-width="0.69">Parainflammation</text>
<line x1="253.2" y1="1770.2" x2="688.59" y2="1770.2" stroke="#000" stroke-width="2.1"/>
<circle cx="688.59" cy="1770.2" r="13" fill="#7FC97F"/>
<text x="217.8" y="1776.2" font-size="20.4" text-anchor="end" fill="#4d4d4d" stroke="#4d4d4d" stroke-width="0.69">Neutrophils</text>
<line x1="253.2" y1="1800.2" x2="686.66" y2="1800.2" stroke="#000" stroke-width="2.1"/>
<circle cx="686.66" cy="1800.2" r="13" fill="#7FC97F"/>
<text x="217.8" y="1806.2" font-size="20.4" text-anchor="end" fill="#4d4d4d" stroke="#4d4d4d" stroke-width="0.69">Mast_cells</text>
<line x1="253.2" y1="1830.2" x2="685" y2="1830.2" stroke="#000" stroke-width="2.1"/>
<circle cx="685" cy="1830.2" r="12.9" fill="#7FC97F"/>
<text x="217.8" y="1836.2" font-size="20.4" text-anchor="end" fill="#4d4d4d" stroke="#4d4d4d" stroke-width="0.69">APC_co_inhibition</text>
<line x1="253.2" y1="1860.2" x2="676.97" y2="1860.2" stroke="#000" stroke-width="2.1"/>
<circle cx="676.97" cy="1860.2" r="12.7" fill="#7FC97F"/>
<text x="217.8" y="1866.2" font-size="20.4" text-anchor="end" fill="#4d4d4d" stroke="#4d4d4d" stroke-width="0.69">T_helper_cells</text>
<line x1="253.2" y1="1890.2" x2="658.16" y2="1890.2" stroke="#000" stroke-width="2.1"/>
<circle cx="658.16" cy="1890.2" r="12.2" fill="#80C780"/>
<text x="217.8" y="1896.2" font-size="20.4" text-anchor="end" fill="#4d4d4d" stroke="#4d4d4d" stroke-width="0.69">CCR</text>
<line x1="253.2" y1="1920.2" x2="652.62" y2="1920.2" stroke="#000" stroke-width="2.1"/>
<circle cx="652.62" cy="1920.2" r="12" fill="#81C680"/>
<text x="217.8" y="1926.2" font-size="20.4" text-anchor="end" fill="#4d4d4d" stroke="#4d4d4d" stroke-width="0.69">Inflammation−promoting</text>
<line x1="253.2" y1="1950.2" x2="608.07" y2="1950.2" stroke="#000" stroke-width="2.1"/>
<circle cx="608.07" cy="1950.2" r="10.6" fill="#89B786"/>
<text x="217.8" y="1956.2" font-size="20.4" text-anchor="end" fill="#4d4d4d" stroke="#4d4d4d" stroke-width="0.69">DCs</text>
<line x1="253.2" y1="1980.2" x2="600.88" y2="1980.2" stroke="#000" stroke-width="2.1"/>
<circle cx="600.88" cy="1980.2" r="10.3" fill="#8CAE89"/>
<text x="217.8" y="1986.2" font-size="20.4" text-anchor="end" fill="#4d4d4d" stroke="#4d4d4d" stroke-width="0.69">aDCs</text>
<line x1="253.2" y1="2010.2" x2="577.64" y2="2010.2" stroke="#000" stroke-width="2.1"/>
<circle cx="577.64" cy="2010.2" r="9.4" fill="#929D8F"/>
<text x="217.8" y="2016.2" font-size="20.4" text-anchor="end" fill="#4d4d4d" stroke="#4d4d4d" stroke-width="0.69">Th1_cells</text>
<line x1="253.2" y1="2040.2" x2="571.83" y2="2040.2" stroke="#000" stroke-width="2.1"/>
<circle cx="571.83" cy="2040.2" r="9.1" fill="#939791"/>
<text x="217.8" y="2046.2" font-size="20.4" text-anchor="end" fill="#4d4d4d" stroke="#4d4d4d" stroke-width="0.69">T_cell_co−stimulation</text>
<line x1="253.2" y1="2070.2" x2="560.48" y2="2070.2" stroke="#000" stroke-width="2.1"/>
<circle cx="560.48" cy="2070.2" r="8.4" fill="#968A95"/>
<text x="217.8" y="2076.2" font-size="20.4" text-anchor="end" fill="#4d4d4d" stroke="#4d4d4d" stroke-width="0.69">pDCs</text>
<line x1="253.2" y1="2100.2" x2="556.33" y2="2100.2" stroke="#000" stroke-width="2.1"/>
<circle cx="556.33" cy="2100.2" r="8.3" fill="#968796"/>
<text x="217.8" y="2106.2" font-size="20.4" text-anchor="end" fill="#4d4d4d" stroke="#4d4d4d" stroke-width="0.69">APC_co_stimulation</text>
<line x1="253.2" y1="2130.2" x2="527.55" y2="2130.2" stroke="#000" stroke-width="2.1"/>
<circle cx="527.55" cy="2130.2" r="4.8" fill="#984EA3"/>
<text x="217.8" y="2136.2" font-size="20.4" text-anchor="end" fill="#4d4d4d" stroke="#4d4d4d" stroke-width="0.69">Cytolytic_activity</text>
<text x="256.9" y="2166.2" font-size="20.4" text-anchor="middle" fill="#4d4d4d" stroke="#4d4d4d" stroke-width="0.69">0.0</text>
<text x="383.52" y="2166.2" font-size="20.4" text-anchor="middle" fill="#4d4d4d" stroke="#4d4d4d" stroke-width="0.69">0.2</text>
<text x="510.14" y="2166.2" font-size="20.4" text-anchor="middle" fill="#4d4d4d" stroke="#4d4d4d" stroke-width="0.69">0.4</text>
<text x="636.76" y="2166.2" font-size="20.4" text-anchor="middle" fill="#4d4d4d" stroke="#4d4d4d" stroke-width="0.69">0.6</text>
<text x="763.38" y="2166.2" font-size="20.4" text-anchor="middle" fill="#4d4d4d" stroke="#4d4d4d" stroke-width="0.69">0.8</text>
<text x="515" y="2201.4" font-size="20.4" text-anchor="middle" stroke="#000" stroke-width="0.69">Correlation</text>
<text x="507.2" y="1499.6" font-size="20.4" text-anchor="middle" stroke="#000" stroke-width="0.69">CEMIP</text>
<text x="826.1" y="1670.5" font-size="20.5" stroke="#000" stroke-width="0.7">abs(correlation)</text>
<circle cx="858.5" cy="1695.7" r="9.1" fill="#000"/>
<text x="884.5" y="1701.1" font-size="20.5" stroke="#000" stroke-width="0.7">0.5</text>
<circle cx="858.5" cy="1723.6" r="11.3" fill="#000"/>
<text x="884.5" y="1729" font-size="20.5" stroke="#000" stroke-width="0.7">0.6</text>
<circle cx="858.5" cy="1752.7" r="13.3" fill="#000"/>
<text x="884.5" y="1758.1" font-size="20.5" stroke="#000" stroke-width="0.7">0.7</text>
<circle cx="858.5" cy="1786.2" r="14.9" fill="#000"/>
<text x="884.5" y="1791.6" font-size="20.5" stroke="#000" stroke-width="0.7">0.8</text>
<text x="841" y="1854.6" font-size="20.4" stroke="#000" stroke-width="0.7"><tspan font-style="italic">P</tspan>-value</text>
<defs><linearGradient id="gE" x1="0" y1="0" x2="0" y2="1"><stop offset="0" stop-color="#984EA3"/><stop offset="0.12" stop-color="#99609F"/><stop offset="0.25" stop-color="#98709C"/><stop offset="0.38" stop-color="#978098"/><stop offset="0.5" stop-color="#958F93"/><stop offset="0.62" stop-color="#929E8F"/><stop offset="0.75" stop-color="#8DAC8A"/><stop offset="0.88" stop-color="#87BB85"/><stop offset="1" stop-color="#7FC97F"/></linearGradient></defs>
<rect x="840.2" y="1865.6" width="27.8" height="139.2" fill="url(#gE)"/>
<line x1="840.2" y1="1891" x2="845.8" y2="1891" stroke="#fff" stroke-width="1.7"/>
<line x1="862.4" y1="1891" x2="868" y2="1891" stroke="#fff" stroke-width="1.7"/>
<text x="877.6" y="1896.2" font-size="20.5" stroke="#000" stroke-width="0.7">0.04</text>
<line x1="840.2" y1="1919" x2="845.8" y2="1919" stroke="#fff" stroke-width="1.7"/>
<line x1="862.4" y1="1919" x2="868" y2="1919" stroke="#fff" stroke-width="1.7"/>
<text x="877.6" y="1924.2" font-size="20.5" stroke="#000" stroke-width="0.7">0.03</text>
<line x1="840.2" y1="1947.2" x2="845.8" y2="1947.2" stroke="#fff" stroke-width="1.7"/>
<line x1="862.4" y1="1947.2" x2="868" y2="1947.2" stroke="#fff" stroke-width="1.7"/>
<text x="877.6" y="1952.4" font-size="20.5" stroke="#000" stroke-width="0.7">0.02</text>
<line x1="840.2" y1="1975.2" x2="845.8" y2="1975.2" stroke="#fff" stroke-width="1.7"/>
<line x1="862.4" y1="1975.2" x2="868" y2="1975.2" stroke="#fff" stroke-width="1.7"/>
<text x="877.6" y="1980.4" font-size="20.5" stroke="#000" stroke-width="0.7">0.01</text>
<line x1="1298.8" y1="1512.5" x2="1298.8" y2="2148.1" stroke="#EBEBEB" stroke-width="2"/>
<line x1="1453.2" y1="1512.5" x2="1453.2" y2="2148.1" stroke="#EBEBEB" stroke-width="2"/>
<line x1="1607.6" y1="1512.5" x2="1607.6" y2="2148.1" stroke="#EBEBEB" stroke-width="2"/>
<line x1="1762" y1="1512.5" x2="1762" y2="2148.1" stroke="#EBEBEB" stroke-width="2"/>
<line x1="1221.6" y1="1512.5" x2="1221.6" y2="2148.1" stroke="#EEEEEE" stroke-width="1.2"/>
<line x1="1376" y1="1512.5" x2="1376" y2="2148.1" stroke="#EEEEEE" stroke-width="1.2"/>
<line x1="1530.4" y1="1512.5" x2="1530.4" y2="2148.1" stroke="#EEEEEE" stroke-width="1.2"/>
<line x1="1684.8" y1="1512.5" x2="1684.8" y2="2148.1" stroke="#EEEEEE" stroke-width="1.2"/>
<line x1="1199.7" y1="1536" x2="1789" y2="1536" stroke="#EBEBEB" stroke-width="2"/>
<line x1="1199.7" y1="1575.24" x2="1789" y2="1575.24" stroke="#EBEBEB" stroke-width="2"/>
<line x1="1199.7" y1="1614.48" x2="1789" y2="1614.48" stroke="#EBEBEB" stroke-width="2"/>
<line x1="1199.7" y1="1653.72" x2="1789" y2="1653.72" stroke="#EBEBEB" stroke-width="2"/>
<line x1="1199.7" y1="1692.96" x2="1789" y2="1692.96" stroke="#EBEBEB" stroke-width="2"/>
<line x1="1199.7" y1="1732.2" x2="1789" y2="1732.2" stroke="#EBEBEB" stroke-width="2"/>
<line x1="1199.7" y1="1771.44" x2="1789" y2="1771.44" stroke="#EBEBEB" stroke-width="2"/>
<line x1="1199.7" y1="1810.68" x2="1789" y2="1810.68" stroke="#EBEBEB" stroke-width="2"/>
<line x1="1199.7" y1="1849.92" x2="1789" y2="1849.92" stroke="#EBEBEB" stroke-width="2"/>
<line x1="1199.7" y1="1889.16" x2="1789" y2="1889.16" stroke="#EBEBEB" stroke-width="2"/>
<line x1="1199.7" y1="1928.4" x2="1789" y2="1928.4" stroke="#EBEBEB" stroke-width="2"/>
<line x1="1199.7" y1="1967.64" x2="1789" y2="1967.64" stroke="#EBEBEB" stroke-width="2"/>
<line x1="1199.7" y1="2006.88" x2="1789" y2="2006.88" stroke="#EBEBEB" stroke-width="2"/>
<line x1="1199.7" y1="2046.12" x2="1789" y2="2046.12" stroke="#EBEBEB" stroke-width="2"/>
<line x1="1199.7" y1="2085.36" x2="1789" y2="2085.36" stroke="#EBEBEB" stroke-width="2"/>
<line x1="1199.7" y1="2124.6" x2="1789" y2="2124.6" stroke="#EBEBEB" stroke-width="2"/>
<line x1="1412.45" y1="1536" x2="1762" y2="1536" stroke="#000" stroke-width="2.1"/>
<circle cx="1412.45" cy="1536" r="4.8" fill="#984EA3"/>
<text x="1187.2" y="1541.6" font-size="20.4" text-anchor="end" fill="#4d4d4d" stroke="#4d4d4d" stroke-width="0.69">DCs</text>
<line x1="1401.93" y1="1575.24" x2="1762" y2="1575.24" stroke="#000" stroke-width="2.1"/>
<circle cx="1401.93" cy="1575.24" r="7.2" fill="#995F9F"/>
<text x="1187.2" y="1580.84" font-size="20.4" text-anchor="end" fill="#4d4d4d" stroke="#4d4d4d" stroke-width="0.69">CCR</text>
<line x1="1390.03" y1="1614.48" x2="1762" y2="1614.48" stroke="#000" stroke-width="2.1"/>
<circle cx="1390.03" cy="1614.48" r="8.4" fill="#977A99"/>
<text x="1187.2" y="1620.08" font-size="20.4" text-anchor="end" fill="#4d4d4d" stroke="#4d4d4d" stroke-width="0.69">Type_II_IFN_Reponse</text>
<line x1="1389.2" y1="1653.72" x2="1762" y2="1653.72" stroke="#000" stroke-width="2.1"/>
<circle cx="1389.2" cy="1653.72" r="8.4" fill="#977C99"/>
<text x="1187.2" y="1659.32" font-size="20.4" text-anchor="end" fill="#4d4d4d" stroke="#4d4d4d" stroke-width="0.69">Th1_cells</text>
<line x1="1387.82" y1="1692.96" x2="1762" y2="1692.96" stroke="#000" stroke-width="2.1"/>
<circle cx="1387.82" cy="1692.96" r="8.6" fill="#977D99"/>
<text x="1187.2" y="1698.56" font-size="20.4" text-anchor="end" fill="#4d4d4d" stroke="#4d4d4d" stroke-width="0.69">Check−point</text>
<line x1="1381.73" y1="1732.2" x2="1762" y2="1732.2" stroke="#000" stroke-width="2.1"/>
<circle cx="1381.73" cy="1732.2" r="9.1" fill="#968A95"/>
<text x="1187.2" y="1737.8" font-size="20.4" text-anchor="end" fill="#4d4d4d" stroke="#4d4d4d" stroke-width="0.69">Inflammation−promoting</text>
<line x1="1373.71" y1="1771.44" x2="1762" y2="1771.44" stroke="#000" stroke-width="2.1"/>
<circle cx="1373.71" cy="1771.44" r="9.7" fill="#949392"/>
<text x="1187.2" y="1777.04" font-size="20.4" text-anchor="end" fill="#4d4d4d" stroke="#4d4d4d" stroke-width="0.69">aDCs</text>
<line x1="1367.9" y1="1810.68" x2="1762" y2="1810.68" stroke="#000" stroke-width="2.1"/>
<circle cx="1367.9" cy="1810.68" r="10" fill="#949591"/>
<text x="1187.2" y="1816.28" font-size="20.4" text-anchor="end" fill="#4d4d4d" stroke="#4d4d4d" stroke-width="0.69">T_helper_cells</text>
<line x1="1341.33" y1="1849.92" x2="1762" y2="1849.92" stroke="#000" stroke-width="2.1"/>
<circle cx="1341.33" cy="1849.92" r="11.3" fill="#8FA68C"/>
<text x="1187.2" y="1855.52" font-size="20.4" text-anchor="end" fill="#4d4d4d" stroke="#4d4d4d" stroke-width="0.69">Neutrophils</text>
<line x1="1338.84" y1="1889.16" x2="1762" y2="1889.16" stroke="#000" stroke-width="2.1"/>
<circle cx="1338.84" cy="1889.16" r="11.4" fill="#8EA88B"/>
<text x="1187.2" y="1894.76" font-size="20.4" text-anchor="end" fill="#4d4d4d" stroke="#4d4d4d" stroke-width="0.69">Macrophages</text>
<line x1="1331.37" y1="1928.4" x2="1762" y2="1928.4" stroke="#000" stroke-width="2.1"/>
<circle cx="1331.37" cy="1928.4" r="11.7" fill="#8DAD8A"/>
<text x="1187.2" y="1934" font-size="20.4" text-anchor="end" fill="#4d4d4d" stroke="#4d4d4d" stroke-width="0.69">Cytolytic_activity</text>
<line x1="1316.43" y1="1967.64" x2="1762" y2="1967.64" stroke="#000" stroke-width="2.1"/>
<circle cx="1316.43" cy="1967.64" r="12.4" fill="#88B786"/>
<text x="1187.2" y="1973.24" font-size="20.4" text-anchor="end" fill="#4d4d4d" stroke="#4d4d4d" stroke-width="0.69">B_cells</text>
<line x1="1310.9" y1="2006.88" x2="1762" y2="2006.88" stroke="#000" stroke-width="2.1"/>
<circle cx="1310.9" cy="2006.88" r="12.5" fill="#88B986"/>
<text x="1187.2" y="2012.48" font-size="20.4" text-anchor="end" fill="#4d4d4d" stroke="#4d4d4d" stroke-width="0.69">Parainflammation</text>
<line x1="1305.64" y1="2046.12" x2="1762" y2="2046.12" stroke="#000" stroke-width="2.1"/>
<circle cx="1305.64" cy="2046.12" r="12.7" fill="#87BA85"/>
<text x="1187.2" y="2051.72" font-size="20.4" text-anchor="end" fill="#4d4d4d" stroke="#4d4d4d" stroke-width="0.69">Treg</text>
<line x1="1239.23" y1="2085.36" x2="1762" y2="2085.36" stroke="#000" stroke-width="2.1"/>
<circle cx="1239.23" cy="2085.36" r="14.7" fill="#7FC97F"/>
<text x="1187.2" y="2090.96" font-size="20.4" text-anchor="end" fill="#4d4d4d" stroke="#4d4d4d" stroke-width="0.69">APC_co_inhibition</text>
<line x1="1227.06" y1="2124.6" x2="1762" y2="2124.6" stroke="#000" stroke-width="2.1"/>
<circle cx="1227.06" cy="2124.6" r="15.2" fill="#7FC97F"/>
<text x="1187.2" y="2130.2" font-size="20.4" text-anchor="end" fill="#4d4d4d" stroke="#4d4d4d" stroke-width="0.69">TIL</text>
<text x="1296.5" y="2171.5" font-size="20.4" text-anchor="middle" fill="#4d4d4d" stroke="#4d4d4d" stroke-width="0.69">−0.6</text>
<text x="1450.9" y="2171.5" font-size="20.4" text-anchor="middle" fill="#4d4d4d" stroke="#4d4d4d" stroke-width="0.69">−0.4</text>
<text x="1605.3" y="2171.5" font-size="20.4" text-anchor="middle" fill="#4d4d4d" stroke="#4d4d4d" stroke-width="0.69">−0.2</text>
<text x="1757.6" y="2171.5" font-size="20.4" text-anchor="middle" fill="#4d4d4d" stroke="#4d4d4d" stroke-width="0.69">0.0</text>
<text x="1506.8" y="2201.4" font-size="20.4" text-anchor="middle" stroke="#000" stroke-width="0.69">Correlation</text>
<text x="1507" y="1500.3" font-size="20.4" text-anchor="middle" stroke="#000" stroke-width="0.69">PFDN4</text>
<text x="1797.5" y="1668.3" font-size="20.5" stroke="#000" stroke-width="0.7">abs(correlation)</text>
<circle cx="1831.8" cy="1696.8" r="9.7" fill="#000"/>
<text x="1857.6" y="1702.2" font-size="20.5" stroke="#000" stroke-width="0.7">0.50</text>
<circle cx="1831.8" cy="1724.7" r="11.6" fill="#000"/>
<text x="1857.6" y="1730.1" font-size="20.5" stroke="#000" stroke-width="0.7">0.55</text>
<circle cx="1831.8" cy="1754" r="13" fill="#000"/>
<text x="1857.6" y="1759.4" font-size="20.5" stroke="#000" stroke-width="0.7">0.60</text>
<circle cx="1831.8" cy="1786.4" r="14.7" fill="#000"/>
<text x="1857.6" y="1791.8" font-size="20.5" stroke="#000" stroke-width="0.7">0.65</text>
<text x="1816" y="1852.6" font-size="20.4" stroke="#000" stroke-width="0.7"><tspan font-style="italic">P</tspan>-value</text>
<defs><linearGradient id="gF" x1="0" y1="0" x2="0" y2="1"><stop offset="0" stop-color="#984EA3"/><stop offset="0.12" stop-color="#99609F"/><stop offset="0.25" stop-color="#98709C"/><stop offset="0.38" stop-color="#978098"/><stop offset="0.5" stop-color="#958F93"/><stop offset="0.62" stop-color="#929E8F"/><stop offset="0.75" stop-color="#8DAC8A"/><stop offset="0.88" stop-color="#87BB85"/><stop offset="1" stop-color="#7FC97F"/></linearGradient></defs>
<rect x="1816" y="1864.7" width="28" height="139.5" fill="url(#gF)"/>
<line x1="1816" y1="1898.2" x2="1821.6" y2="1898.2" stroke="#fff" stroke-width="1.7"/>
<line x1="1838.4" y1="1898.2" x2="1844" y2="1898.2" stroke="#fff" stroke-width="1.7"/>
<text x="1851.5" y="1903.2" font-size="20.5" stroke="#000" stroke-width="0.7">0.03</text>
<line x1="1816" y1="1933.6" x2="1821.6" y2="1933.6" stroke="#fff" stroke-width="1.7"/>
<line x1="1838.4" y1="1933.6" x2="1844" y2="1933.6" stroke="#fff" stroke-width="1.7"/>
<text x="1851.5" y="1938.6" font-size="20.5" stroke="#000" stroke-width="0.7">0.02</text>
<line x1="1816" y1="1969" x2="1821.6" y2="1969" stroke="#fff" stroke-width="1.7"/>
<line x1="1838.4" y1="1969" x2="1844" y2="1969" stroke="#fff" stroke-width="1.7"/>
<text x="1851.5" y="1974" font-size="20.5" stroke="#000" stroke-width="0.7">0.01</text>
<text x="13.6" y="35.9" font-size="51.5" font-weight="bold" stroke="#000" stroke-width="1.1">A</text>
<text x="1000.5" y="35.9" font-size="51.5" font-weight="bold" stroke="#000" stroke-width="1.1">B</text>
<text x="13.6" y="594.5" font-size="51.5" font-weight="bold" stroke="#000" stroke-width="1.1">C</text>
<text x="1000.5" y="594.8" font-size="51.5" font-weight="bold" stroke="#000" stroke-width="1.1">D</text>
<text x="16.2" y="1486" font-size="51.5" font-weight="bold" stroke="#000" stroke-width="1.1">E</text>
<text x="1000.9" y="1486" font-size="51.5" font-weight="bold" stroke="#000" stroke-width="1.1">F</text>
</svg>
</body></html>
